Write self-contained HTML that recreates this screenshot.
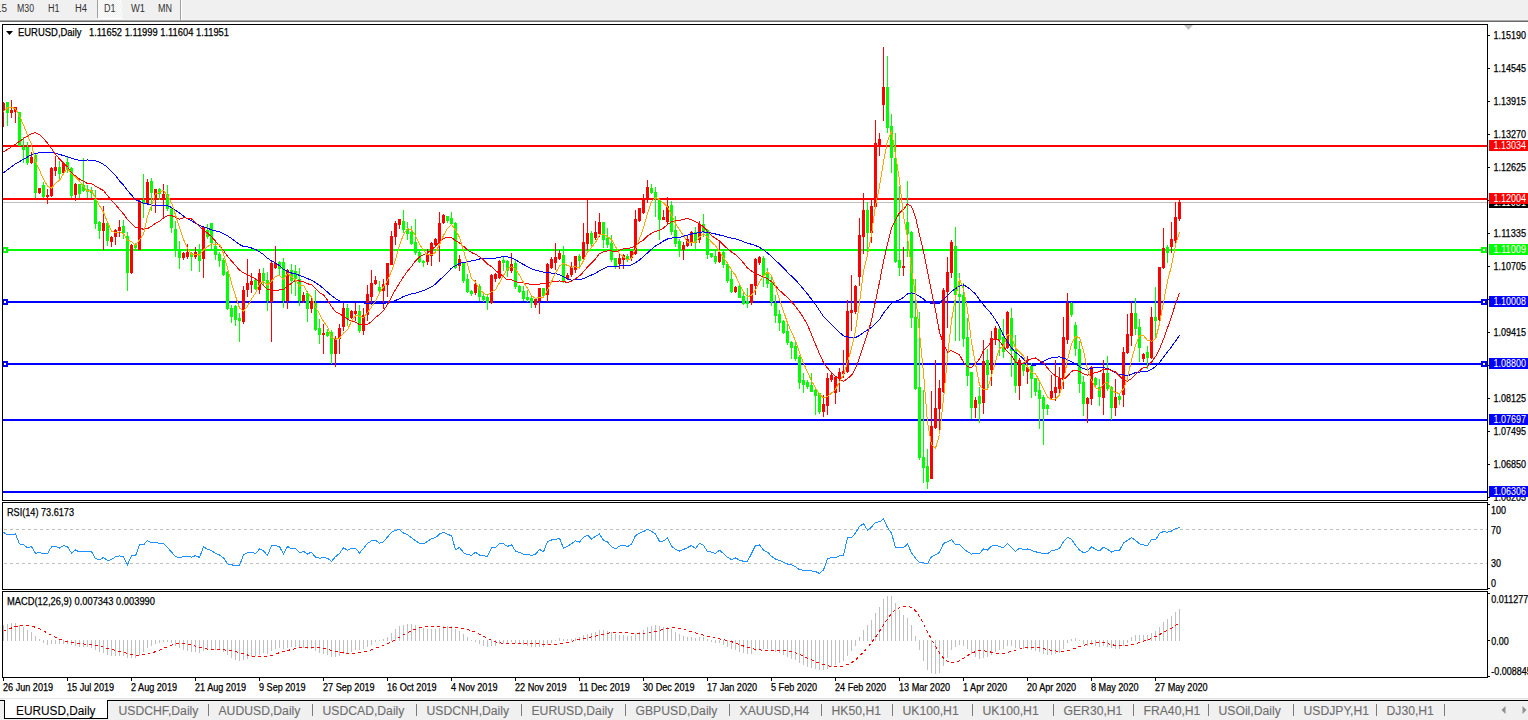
<!DOCTYPE html>
<html><head><meta charset="utf-8"><style>
html,body{margin:0;padding:0;width:1528px;height:720px;overflow:hidden;background:#fff;}
body{position:relative;font-family:"Liberation Sans",sans-serif;}
</style></head><body>
<svg width="1528" height="720" viewBox="0 0 1528 720" style="position:absolute;left:0;top:0" font-family="Liberation Sans, sans-serif"><g shape-rendering="crispEdges"><rect x="0" y="0" width="1528" height="19" fill="#f0f0f0"/><rect x="0" y="19" width="1528" height="1" fill="#f4f4f4"/><rect x="0" y="20" width="1528" height="1" fill="#a6a6a6"/><rect x="0" y="21" width="1528" height="1" fill="#6b6b6b"/><defs><pattern id="chk" width="2" height="2" patternUnits="userSpaceOnUse"><rect width="2" height="2" fill="#f0f0f0"/><rect width="1" height="1" fill="#ffffff"/><rect x="1" y="1" width="1" height="1" fill="#ffffff"/></pattern></defs><rect x="98" y="0" width="24" height="18" fill="url(#chk)"/><rect x="97" y="0" width="1" height="18" fill="#a0a0a0"/><rect x="98" y="18" width="25" height="1" fill="#ffffff"/><rect x="180" y="0" width="1" height="20" fill="#a0a0a0"/><rect x="181" y="0" width="1" height="20" fill="#ffffff"/></g><text x="-4" y="12.2" font-size="10" fill="#333333" stroke="#333333" stroke-width="0" text-anchor="start" >15</text><text x="17" y="12.2" font-size="10" fill="#333333" stroke="#333333" stroke-width="0" text-anchor="start" textLength="17" lengthAdjust="spacingAndGlyphs" >M30</text><text x="48" y="12.2" font-size="10" fill="#333333" stroke="#333333" stroke-width="0" text-anchor="start" textLength="11.5" lengthAdjust="spacingAndGlyphs" >H1</text><text x="75" y="12.2" font-size="10" fill="#333333" stroke="#333333" stroke-width="0" text-anchor="start" textLength="12" lengthAdjust="spacingAndGlyphs" >H4</text><text x="104" y="12.2" font-size="10" fill="#333333" stroke="#333333" stroke-width="0" text-anchor="start" textLength="11.5" lengthAdjust="spacingAndGlyphs" >D1</text><text x="131" y="12.2" font-size="10" fill="#333333" stroke="#333333" stroke-width="0" text-anchor="start" textLength="14" lengthAdjust="spacingAndGlyphs" >W1</text><text x="158" y="12.2" font-size="10" fill="#333333" stroke="#333333" stroke-width="0" text-anchor="start" textLength="14" lengthAdjust="spacingAndGlyphs" >MN</text><g shape-rendering="crispEdges"><rect x="2.5" y="24.5" width="1485" height="476" fill="#fff" stroke="#000" stroke-width="1"/></g><svg x="3" y="25" width="1484" height="475" viewBox="3 25 1484 475" overflow="hidden"><g shape-rendering="crispEdges"><rect x="3" y="202" width="1484" height="1" fill="#c0c0c0"/><rect x="3" y="145" width="1484" height="2" fill="#ff0000"/><rect x="3" y="198" width="1484" height="2" fill="#ff0000"/><rect x="3" y="249" width="1484" height="2" fill="#00ff00"/><rect x="3" y="301" width="1484" height="2" fill="#0000ff"/><rect x="3" y="363" width="1484" height="2" fill="#0000ff"/><rect x="3" y="419" width="1484" height="2" fill="#0000ff"/><rect x="3" y="491" width="1484" height="2" fill="#0000ff"/></g><g shape-rendering="crispEdges"><rect x="3" y="102" width="1" height="25" fill="#ff0000"/><rect x="2" y="103" width="3" height="8" fill="#ff0000"/><rect x="7" y="102" width="1" height="24" fill="#00ff00"/><rect x="6" y="102" width="3" height="11" fill="#00ff00"/><rect x="11" y="100" width="1" height="18" fill="#ff0000"/><rect x="10" y="110" width="3" height="3" fill="#ff0000"/><rect x="15" y="107" width="1" height="16" fill="#ff0000"/><rect x="14" y="107" width="3" height="5" fill="#ff0000"/><rect x="19" y="112" width="1" height="34" fill="#00ff00"/><rect x="18" y="112" width="3" height="34" fill="#00ff00"/><rect x="23" y="137" width="1" height="26" fill="#00ff00"/><rect x="22" y="147" width="3" height="3" fill="#00ff00"/><rect x="27" y="142" width="1" height="23" fill="#00ff00"/><rect x="26" y="147" width="3" height="16" fill="#00ff00"/><rect x="31" y="152" width="1" height="12" fill="#ff0000"/><rect x="30" y="157" width="3" height="6" fill="#ff0000"/><rect x="35" y="153" width="1" height="45" fill="#00ff00"/><rect x="34" y="155" width="3" height="38" fill="#00ff00"/><rect x="39" y="188" width="1" height="6" fill="#ff0000"/><rect x="38" y="188" width="3" height="5" fill="#ff0000"/><rect x="43" y="182" width="1" height="16" fill="#00ff00"/><rect x="42" y="185" width="3" height="12" fill="#00ff00"/><rect x="47" y="189" width="1" height="15" fill="#ff0000"/><rect x="46" y="195" width="3" height="2" fill="#ff0000"/><rect x="51" y="167" width="1" height="30" fill="#ff0000"/><rect x="50" y="168" width="3" height="28" fill="#ff0000"/><rect x="55" y="156" width="1" height="20" fill="#ff0000"/><rect x="54" y="167" width="3" height="4" fill="#ff0000"/><rect x="59" y="161" width="1" height="20" fill="#00ff00"/><rect x="58" y="167" width="3" height="7" fill="#00ff00"/><rect x="63" y="162" width="1" height="12" fill="#ff0000"/><rect x="62" y="163" width="3" height="10" fill="#ff0000"/><rect x="67" y="157" width="1" height="16" fill="#00ff00"/><rect x="66" y="162" width="3" height="7" fill="#00ff00"/><rect x="71" y="167" width="1" height="31" fill="#00ff00"/><rect x="70" y="168" width="3" height="28" fill="#00ff00"/><rect x="75" y="183" width="1" height="18" fill="#ff0000"/><rect x="74" y="184" width="3" height="11" fill="#ff0000"/><rect x="79" y="184" width="1" height="14" fill="#00ff00"/><rect x="78" y="184" width="3" height="10" fill="#00ff00"/><rect x="83" y="158" width="1" height="34" fill="#00ff00"/><rect x="82" y="185" width="3" height="6" fill="#00ff00"/><rect x="87" y="185" width="1" height="13" fill="#00ff00"/><rect x="86" y="189" width="3" height="3" fill="#00ff00"/><rect x="91" y="187" width="1" height="11" fill="#00ff00"/><rect x="90" y="190" width="3" height="3" fill="#00ff00"/><rect x="95" y="190" width="1" height="39" fill="#00ff00"/><rect x="94" y="199" width="3" height="25" fill="#00ff00"/><rect x="99" y="221" width="1" height="18" fill="#00ff00"/><rect x="98" y="222" width="3" height="9" fill="#00ff00"/><rect x="103" y="206" width="1" height="44" fill="#ff0000"/><rect x="102" y="223" width="3" height="8" fill="#ff0000"/><rect x="107" y="223" width="1" height="23" fill="#00ff00"/><rect x="106" y="223" width="3" height="18" fill="#00ff00"/><rect x="111" y="236" width="1" height="11" fill="#ff0000"/><rect x="110" y="237" width="3" height="5" fill="#ff0000"/><rect x="115" y="229" width="1" height="16" fill="#ff0000"/><rect x="114" y="230" width="3" height="7" fill="#ff0000"/><rect x="119" y="220" width="1" height="17" fill="#ff0000"/><rect x="118" y="227" width="3" height="4" fill="#ff0000"/><rect x="123" y="220" width="1" height="19" fill="#00ff00"/><rect x="122" y="226" width="3" height="7" fill="#00ff00"/><rect x="127" y="232" width="1" height="59" fill="#00ff00"/><rect x="126" y="236" width="3" height="37" fill="#00ff00"/><rect x="131" y="244" width="1" height="30" fill="#ff0000"/><rect x="130" y="245" width="3" height="28" fill="#ff0000"/><rect x="135" y="243" width="1" height="6" fill="#00ff00"/><rect x="134" y="244" width="3" height="4" fill="#00ff00"/><rect x="139" y="200" width="1" height="50" fill="#ff0000"/><rect x="138" y="201" width="3" height="49" fill="#ff0000"/><rect x="143" y="174" width="1" height="44" fill="#00ff00"/><rect x="142" y="200" width="3" height="4" fill="#00ff00"/><rect x="147" y="179" width="1" height="26" fill="#ff0000"/><rect x="146" y="182" width="3" height="22" fill="#ff0000"/><rect x="151" y="178" width="1" height="33" fill="#00ff00"/><rect x="150" y="181" width="3" height="12" fill="#00ff00"/><rect x="155" y="189" width="1" height="24" fill="#ff0000"/><rect x="154" y="189" width="3" height="10" fill="#ff0000"/><rect x="159" y="188" width="1" height="12" fill="#00ff00"/><rect x="158" y="189" width="3" height="5" fill="#00ff00"/><rect x="163" y="184" width="1" height="35" fill="#ff0000"/><rect x="162" y="194" width="3" height="5" fill="#ff0000"/><rect x="167" y="185" width="1" height="26" fill="#00ff00"/><rect x="166" y="194" width="3" height="15" fill="#00ff00"/><rect x="171" y="208" width="1" height="25" fill="#00ff00"/><rect x="170" y="209" width="3" height="19" fill="#00ff00"/><rect x="175" y="221" width="1" height="36" fill="#00ff00"/><rect x="174" y="229" width="3" height="22" fill="#00ff00"/><rect x="179" y="241" width="1" height="28" fill="#00ff00"/><rect x="178" y="250" width="3" height="8" fill="#00ff00"/><rect x="183" y="252" width="1" height="8" fill="#ff0000"/><rect x="182" y="253" width="3" height="5" fill="#ff0000"/><rect x="187" y="244" width="1" height="15" fill="#ff0000"/><rect x="186" y="252" width="3" height="5" fill="#ff0000"/><rect x="191" y="252" width="1" height="19" fill="#00ff00"/><rect x="190" y="253" width="3" height="4" fill="#00ff00"/><rect x="195" y="247" width="1" height="12" fill="#ff0000"/><rect x="194" y="252" width="3" height="5" fill="#ff0000"/><rect x="199" y="244" width="1" height="28" fill="#00ff00"/><rect x="198" y="250" width="3" height="11" fill="#00ff00"/><rect x="203" y="226" width="1" height="52" fill="#ff0000"/><rect x="202" y="227" width="3" height="32" fill="#ff0000"/><rect x="207" y="224" width="1" height="15" fill="#00ff00"/><rect x="206" y="230" width="3" height="7" fill="#00ff00"/><rect x="211" y="223" width="1" height="26" fill="#00ff00"/><rect x="210" y="223" width="3" height="20" fill="#00ff00"/><rect x="215" y="242" width="1" height="18" fill="#00ff00"/><rect x="214" y="246" width="3" height="9" fill="#00ff00"/><rect x="219" y="252" width="1" height="15" fill="#00ff00"/><rect x="218" y="254" width="3" height="7" fill="#00ff00"/><rect x="223" y="258" width="1" height="18" fill="#00ff00"/><rect x="222" y="260" width="3" height="15" fill="#00ff00"/><rect x="227" y="271" width="1" height="39" fill="#00ff00"/><rect x="226" y="272" width="3" height="37" fill="#00ff00"/><rect x="231" y="305" width="1" height="18" fill="#00ff00"/><rect x="230" y="308" width="3" height="9" fill="#00ff00"/><rect x="235" y="305" width="1" height="21" fill="#00ff00"/><rect x="234" y="306" width="3" height="14" fill="#00ff00"/><rect x="239" y="313" width="1" height="29" fill="#00ff00"/><rect x="238" y="318" width="3" height="3" fill="#00ff00"/><rect x="243" y="286" width="1" height="38" fill="#ff0000"/><rect x="242" y="290" width="3" height="32" fill="#ff0000"/><rect x="247" y="259" width="1" height="38" fill="#ff0000"/><rect x="246" y="283" width="3" height="7" fill="#ff0000"/><rect x="251" y="273" width="1" height="20" fill="#ff0000"/><rect x="250" y="281" width="3" height="4" fill="#ff0000"/><rect x="255" y="278" width="1" height="12" fill="#00ff00"/><rect x="254" y="280" width="3" height="9" fill="#00ff00"/><rect x="259" y="269" width="1" height="25" fill="#ff0000"/><rect x="258" y="273" width="3" height="17" fill="#ff0000"/><rect x="263" y="268" width="1" height="17" fill="#00ff00"/><rect x="262" y="273" width="3" height="8" fill="#00ff00"/><rect x="267" y="272" width="1" height="39" fill="#00ff00"/><rect x="266" y="280" width="3" height="21" fill="#00ff00"/><rect x="271" y="261" width="1" height="81" fill="#ff0000"/><rect x="270" y="263" width="3" height="39" fill="#ff0000"/><rect x="275" y="246" width="1" height="23" fill="#ff0000"/><rect x="274" y="263" width="3" height="5" fill="#ff0000"/><rect x="279" y="261" width="1" height="14" fill="#00ff00"/><rect x="278" y="262" width="3" height="7" fill="#00ff00"/><rect x="283" y="258" width="1" height="50" fill="#00ff00"/><rect x="282" y="262" width="3" height="39" fill="#00ff00"/><rect x="287" y="269" width="1" height="40" fill="#ff0000"/><rect x="286" y="270" width="3" height="31" fill="#ff0000"/><rect x="291" y="264" width="1" height="30" fill="#00ff00"/><rect x="290" y="270" width="3" height="11" fill="#00ff00"/><rect x="295" y="265" width="1" height="31" fill="#00ff00"/><rect x="294" y="271" width="3" height="8" fill="#00ff00"/><rect x="299" y="268" width="1" height="38" fill="#00ff00"/><rect x="298" y="279" width="3" height="22" fill="#00ff00"/><rect x="303" y="292" width="1" height="11" fill="#ff0000"/><rect x="302" y="295" width="3" height="6" fill="#ff0000"/><rect x="307" y="291" width="1" height="31" fill="#00ff00"/><rect x="306" y="293" width="3" height="16" fill="#00ff00"/><rect x="311" y="298" width="1" height="15" fill="#ff0000"/><rect x="310" y="301" width="3" height="8" fill="#ff0000"/><rect x="315" y="290" width="1" height="41" fill="#00ff00"/><rect x="314" y="303" width="3" height="27" fill="#00ff00"/><rect x="319" y="319" width="1" height="25" fill="#00ff00"/><rect x="318" y="328" width="3" height="7" fill="#00ff00"/><rect x="323" y="324" width="1" height="30" fill="#ff0000"/><rect x="322" y="333" width="3" height="2" fill="#ff0000"/><rect x="327" y="329" width="1" height="8" fill="#00ff00"/><rect x="326" y="332" width="3" height="4" fill="#00ff00"/><rect x="331" y="330" width="1" height="34" fill="#00ff00"/><rect x="330" y="332" width="3" height="22" fill="#00ff00"/><rect x="335" y="336" width="1" height="31" fill="#ff0000"/><rect x="334" y="339" width="3" height="15" fill="#ff0000"/><rect x="339" y="324" width="1" height="30" fill="#ff0000"/><rect x="338" y="328" width="3" height="11" fill="#ff0000"/><rect x="343" y="303" width="1" height="28" fill="#ff0000"/><rect x="342" y="308" width="3" height="19" fill="#ff0000"/><rect x="347" y="304" width="1" height="22" fill="#00ff00"/><rect x="346" y="308" width="3" height="11" fill="#00ff00"/><rect x="351" y="310" width="1" height="9" fill="#ff0000"/><rect x="350" y="311" width="3" height="7" fill="#ff0000"/><rect x="355" y="303" width="1" height="18" fill="#ff0000"/><rect x="354" y="311" width="3" height="3" fill="#ff0000"/><rect x="359" y="305" width="1" height="28" fill="#00ff00"/><rect x="358" y="311" width="3" height="20" fill="#00ff00"/><rect x="363" y="308" width="1" height="27" fill="#ff0000"/><rect x="362" y="315" width="3" height="16" fill="#ff0000"/><rect x="367" y="285" width="1" height="36" fill="#ff0000"/><rect x="366" y="294" width="3" height="21" fill="#ff0000"/><rect x="371" y="270" width="1" height="35" fill="#ff0000"/><rect x="370" y="283" width="3" height="14" fill="#ff0000"/><rect x="375" y="276" width="1" height="9" fill="#ff0000"/><rect x="374" y="280" width="3" height="4" fill="#ff0000"/><rect x="379" y="281" width="1" height="11" fill="#00ff00"/><rect x="378" y="287" width="3" height="4" fill="#00ff00"/><rect x="383" y="279" width="1" height="30" fill="#ff0000"/><rect x="382" y="284" width="3" height="7" fill="#ff0000"/><rect x="387" y="263" width="1" height="34" fill="#ff0000"/><rect x="386" y="263" width="3" height="22" fill="#ff0000"/><rect x="391" y="231" width="1" height="34" fill="#ff0000"/><rect x="390" y="236" width="3" height="29" fill="#ff0000"/><rect x="395" y="221" width="1" height="24" fill="#ff0000"/><rect x="394" y="223" width="3" height="14" fill="#ff0000"/><rect x="399" y="219" width="1" height="10" fill="#ff0000"/><rect x="398" y="219" width="3" height="6" fill="#ff0000"/><rect x="403" y="210" width="1" height="23" fill="#00ff00"/><rect x="402" y="221" width="3" height="9" fill="#00ff00"/><rect x="407" y="222" width="1" height="18" fill="#00ff00"/><rect x="406" y="229" width="3" height="5" fill="#00ff00"/><rect x="411" y="226" width="1" height="19" fill="#00ff00"/><rect x="410" y="232" width="3" height="12" fill="#00ff00"/><rect x="415" y="219" width="1" height="36" fill="#00ff00"/><rect x="414" y="242" width="3" height="11" fill="#00ff00"/><rect x="419" y="249" width="1" height="14" fill="#00ff00"/><rect x="418" y="252" width="3" height="10" fill="#00ff00"/><rect x="423" y="260" width="1" height="7" fill="#00ff00"/><rect x="422" y="261" width="3" height="2" fill="#00ff00"/><rect x="427" y="249" width="1" height="16" fill="#ff0000"/><rect x="426" y="254" width="3" height="8" fill="#ff0000"/><rect x="431" y="242" width="1" height="24" fill="#ff0000"/><rect x="430" y="243" width="3" height="13" fill="#ff0000"/><rect x="435" y="238" width="1" height="9" fill="#ff0000"/><rect x="434" y="239" width="3" height="6" fill="#ff0000"/><rect x="439" y="212" width="1" height="50" fill="#ff0000"/><rect x="438" y="223" width="3" height="20" fill="#ff0000"/><rect x="443" y="214" width="1" height="10" fill="#ff0000"/><rect x="442" y="215" width="3" height="8" fill="#ff0000"/><rect x="447" y="216" width="1" height="7" fill="#00ff00"/><rect x="446" y="216" width="3" height="5" fill="#00ff00"/><rect x="451" y="212" width="1" height="13" fill="#00ff00"/><rect x="450" y="218" width="3" height="6" fill="#00ff00"/><rect x="455" y="222" width="1" height="47" fill="#00ff00"/><rect x="454" y="223" width="3" height="45" fill="#00ff00"/><rect x="459" y="255" width="1" height="16" fill="#ff0000"/><rect x="458" y="259" width="3" height="7" fill="#ff0000"/><rect x="463" y="262" width="1" height="21" fill="#00ff00"/><rect x="462" y="263" width="3" height="18" fill="#00ff00"/><rect x="467" y="274" width="1" height="19" fill="#00ff00"/><rect x="466" y="279" width="3" height="13" fill="#00ff00"/><rect x="471" y="290" width="1" height="6" fill="#00ff00"/><rect x="470" y="291" width="3" height="3" fill="#00ff00"/><rect x="475" y="280" width="1" height="15" fill="#ff0000"/><rect x="474" y="284" width="3" height="9" fill="#ff0000"/><rect x="479" y="284" width="1" height="17" fill="#00ff00"/><rect x="478" y="286" width="3" height="11" fill="#00ff00"/><rect x="483" y="293" width="1" height="9" fill="#00ff00"/><rect x="482" y="296" width="3" height="4" fill="#00ff00"/><rect x="487" y="294" width="1" height="16" fill="#00ff00"/><rect x="486" y="297" width="3" height="6" fill="#00ff00"/><rect x="491" y="274" width="1" height="30" fill="#ff0000"/><rect x="490" y="275" width="3" height="28" fill="#ff0000"/><rect x="495" y="273" width="1" height="9" fill="#ff0000"/><rect x="494" y="274" width="3" height="5" fill="#ff0000"/><rect x="499" y="260" width="1" height="19" fill="#ff0000"/><rect x="498" y="261" width="3" height="17" fill="#ff0000"/><rect x="503" y="257" width="1" height="14" fill="#00ff00"/><rect x="502" y="260" width="3" height="3" fill="#00ff00"/><rect x="507" y="260" width="1" height="17" fill="#00ff00"/><rect x="506" y="261" width="3" height="10" fill="#00ff00"/><rect x="511" y="253" width="1" height="20" fill="#ff0000"/><rect x="510" y="264" width="3" height="7" fill="#ff0000"/><rect x="515" y="260" width="1" height="29" fill="#00ff00"/><rect x="514" y="263" width="3" height="24" fill="#00ff00"/><rect x="519" y="285" width="1" height="8" fill="#00ff00"/><rect x="518" y="286" width="3" height="6" fill="#00ff00"/><rect x="523" y="286" width="1" height="15" fill="#00ff00"/><rect x="522" y="291" width="3" height="8" fill="#00ff00"/><rect x="527" y="290" width="1" height="12" fill="#00ff00"/><rect x="526" y="297" width="3" height="3" fill="#00ff00"/><rect x="531" y="296" width="1" height="12" fill="#00ff00"/><rect x="530" y="298" width="3" height="5" fill="#00ff00"/><rect x="535" y="298" width="1" height="10" fill="#ff0000"/><rect x="534" y="299" width="3" height="6" fill="#ff0000"/><rect x="539" y="288" width="1" height="26" fill="#ff0000"/><rect x="538" y="288" width="3" height="13" fill="#ff0000"/><rect x="543" y="288" width="1" height="9" fill="#00ff00"/><rect x="542" y="288" width="3" height="8" fill="#00ff00"/><rect x="547" y="263" width="1" height="39" fill="#ff0000"/><rect x="546" y="264" width="3" height="31" fill="#ff0000"/><rect x="551" y="257" width="1" height="12" fill="#ff0000"/><rect x="550" y="259" width="3" height="9" fill="#ff0000"/><rect x="555" y="243" width="1" height="27" fill="#ff0000"/><rect x="554" y="257" width="3" height="6" fill="#ff0000"/><rect x="559" y="250" width="1" height="10" fill="#ff0000"/><rect x="558" y="253" width="3" height="6" fill="#ff0000"/><rect x="563" y="246" width="1" height="37" fill="#00ff00"/><rect x="562" y="255" width="3" height="27" fill="#00ff00"/><rect x="567" y="273" width="1" height="7" fill="#ff0000"/><rect x="566" y="275" width="3" height="4" fill="#ff0000"/><rect x="571" y="262" width="1" height="15" fill="#ff0000"/><rect x="570" y="267" width="3" height="8" fill="#ff0000"/><rect x="575" y="256" width="1" height="17" fill="#ff0000"/><rect x="574" y="256" width="3" height="14" fill="#ff0000"/><rect x="579" y="254" width="1" height="14" fill="#00ff00"/><rect x="578" y="256" width="3" height="5" fill="#00ff00"/><rect x="583" y="223" width="1" height="36" fill="#ff0000"/><rect x="582" y="242" width="3" height="17" fill="#ff0000"/><rect x="587" y="199" width="1" height="51" fill="#ff0000"/><rect x="586" y="233" width="3" height="11" fill="#ff0000"/><rect x="591" y="231" width="1" height="16" fill="#00ff00"/><rect x="590" y="233" width="3" height="11" fill="#00ff00"/><rect x="595" y="221" width="1" height="19" fill="#ff0000"/><rect x="594" y="232" width="3" height="6" fill="#ff0000"/><rect x="599" y="213" width="1" height="24" fill="#ff0000"/><rect x="598" y="222" width="3" height="12" fill="#ff0000"/><rect x="603" y="222" width="1" height="26" fill="#00ff00"/><rect x="602" y="222" width="3" height="18" fill="#00ff00"/><rect x="607" y="228" width="1" height="20" fill="#00ff00"/><rect x="606" y="238" width="3" height="7" fill="#00ff00"/><rect x="611" y="235" width="1" height="27" fill="#00ff00"/><rect x="610" y="243" width="3" height="17" fill="#00ff00"/><rect x="615" y="258" width="1" height="11" fill="#00ff00"/><rect x="614" y="258" width="3" height="9" fill="#00ff00"/><rect x="619" y="254" width="1" height="15" fill="#ff0000"/><rect x="618" y="258" width="3" height="6" fill="#ff0000"/><rect x="623" y="254" width="1" height="15" fill="#ff0000"/><rect x="622" y="255" width="3" height="5" fill="#ff0000"/><rect x="627" y="254" width="1" height="8" fill="#00ff00"/><rect x="626" y="256" width="3" height="4" fill="#00ff00"/><rect x="631" y="251" width="1" height="10" fill="#ff0000"/><rect x="630" y="251" width="3" height="7" fill="#ff0000"/><rect x="635" y="210" width="1" height="45" fill="#ff0000"/><rect x="634" y="219" width="3" height="35" fill="#ff0000"/><rect x="639" y="208" width="1" height="14" fill="#ff0000"/><rect x="638" y="208" width="3" height="13" fill="#ff0000"/><rect x="643" y="194" width="1" height="20" fill="#ff0000"/><rect x="642" y="199" width="3" height="14" fill="#ff0000"/><rect x="647" y="180" width="1" height="23" fill="#ff0000"/><rect x="646" y="187" width="3" height="12" fill="#ff0000"/><rect x="651" y="184" width="1" height="10" fill="#00ff00"/><rect x="650" y="188" width="3" height="5" fill="#00ff00"/><rect x="655" y="187" width="1" height="30" fill="#00ff00"/><rect x="654" y="192" width="3" height="7" fill="#00ff00"/><rect x="659" y="199" width="1" height="41" fill="#00ff00"/><rect x="658" y="200" width="3" height="20" fill="#00ff00"/><rect x="663" y="210" width="1" height="10" fill="#ff0000"/><rect x="662" y="217" width="3" height="3" fill="#ff0000"/><rect x="667" y="197" width="1" height="27" fill="#ff0000"/><rect x="666" y="206" width="3" height="16" fill="#ff0000"/><rect x="671" y="201" width="1" height="34" fill="#00ff00"/><rect x="670" y="205" width="3" height="27" fill="#00ff00"/><rect x="675" y="216" width="1" height="31" fill="#00ff00"/><rect x="674" y="230" width="3" height="14" fill="#00ff00"/><rect x="679" y="239" width="1" height="18" fill="#00ff00"/><rect x="678" y="241" width="3" height="10" fill="#00ff00"/><rect x="683" y="242" width="1" height="18" fill="#ff0000"/><rect x="682" y="245" width="3" height="5" fill="#ff0000"/><rect x="687" y="236" width="1" height="11" fill="#ff0000"/><rect x="686" y="239" width="3" height="7" fill="#ff0000"/><rect x="691" y="231" width="1" height="15" fill="#ff0000"/><rect x="690" y="232" width="3" height="11" fill="#ff0000"/><rect x="695" y="227" width="1" height="22" fill="#00ff00"/><rect x="694" y="232" width="3" height="11" fill="#00ff00"/><rect x="699" y="221" width="1" height="22" fill="#ff0000"/><rect x="698" y="224" width="3" height="16" fill="#ff0000"/><rect x="703" y="214" width="1" height="23" fill="#00ff00"/><rect x="702" y="224" width="3" height="8" fill="#00ff00"/><rect x="707" y="229" width="1" height="30" fill="#00ff00"/><rect x="706" y="230" width="3" height="25" fill="#00ff00"/><rect x="711" y="253" width="1" height="5" fill="#00ff00"/><rect x="710" y="253" width="3" height="4" fill="#00ff00"/><rect x="715" y="251" width="1" height="13" fill="#00ff00"/><rect x="714" y="256" width="3" height="6" fill="#00ff00"/><rect x="719" y="242" width="1" height="21" fill="#ff0000"/><rect x="718" y="252" width="3" height="10" fill="#ff0000"/><rect x="723" y="251" width="1" height="17" fill="#00ff00"/><rect x="722" y="252" width="3" height="13" fill="#00ff00"/><rect x="727" y="264" width="1" height="19" fill="#00ff00"/><rect x="726" y="264" width="3" height="17" fill="#00ff00"/><rect x="731" y="271" width="1" height="22" fill="#00ff00"/><rect x="730" y="279" width="3" height="13" fill="#00ff00"/><rect x="735" y="286" width="1" height="7" fill="#ff0000"/><rect x="734" y="287" width="3" height="5" fill="#ff0000"/><rect x="739" y="285" width="1" height="13" fill="#00ff00"/><rect x="738" y="286" width="3" height="12" fill="#00ff00"/><rect x="743" y="291" width="1" height="14" fill="#00ff00"/><rect x="742" y="296" width="3" height="8" fill="#00ff00"/><rect x="747" y="288" width="1" height="20" fill="#00ff00"/><rect x="746" y="301" width="3" height="3" fill="#00ff00"/><rect x="751" y="284" width="1" height="21" fill="#ff0000"/><rect x="750" y="284" width="3" height="19" fill="#ff0000"/><rect x="755" y="258" width="1" height="37" fill="#ff0000"/><rect x="754" y="259" width="3" height="27" fill="#ff0000"/><rect x="759" y="256" width="1" height="9" fill="#ff0000"/><rect x="758" y="257" width="3" height="6" fill="#ff0000"/><rect x="763" y="256" width="1" height="31" fill="#00ff00"/><rect x="762" y="258" width="3" height="18" fill="#00ff00"/><rect x="767" y="268" width="1" height="20" fill="#00ff00"/><rect x="766" y="273" width="3" height="11" fill="#00ff00"/><rect x="771" y="277" width="1" height="29" fill="#00ff00"/><rect x="770" y="283" width="3" height="19" fill="#00ff00"/><rect x="775" y="295" width="1" height="28" fill="#00ff00"/><rect x="774" y="303" width="3" height="13" fill="#00ff00"/><rect x="779" y="310" width="1" height="21" fill="#00ff00"/><rect x="778" y="314" width="3" height="9" fill="#00ff00"/><rect x="783" y="320" width="1" height="14" fill="#00ff00"/><rect x="782" y="321" width="3" height="12" fill="#00ff00"/><rect x="787" y="324" width="1" height="21" fill="#00ff00"/><rect x="786" y="331" width="3" height="12" fill="#00ff00"/><rect x="791" y="341" width="1" height="18" fill="#00ff00"/><rect x="790" y="342" width="3" height="6" fill="#00ff00"/><rect x="795" y="340" width="1" height="21" fill="#00ff00"/><rect x="794" y="346" width="3" height="13" fill="#00ff00"/><rect x="799" y="355" width="1" height="34" fill="#00ff00"/><rect x="798" y="357" width="3" height="26" fill="#00ff00"/><rect x="803" y="373" width="1" height="20" fill="#00ff00"/><rect x="802" y="380" width="3" height="5" fill="#00ff00"/><rect x="807" y="380" width="1" height="9" fill="#00ff00"/><rect x="806" y="382" width="3" height="5" fill="#00ff00"/><rect x="811" y="373" width="1" height="19" fill="#00ff00"/><rect x="810" y="385" width="3" height="7" fill="#00ff00"/><rect x="815" y="388" width="1" height="27" fill="#00ff00"/><rect x="814" y="390" width="3" height="6" fill="#00ff00"/><rect x="819" y="393" width="1" height="21" fill="#00ff00"/><rect x="818" y="393" width="3" height="19" fill="#00ff00"/><rect x="823" y="395" width="1" height="22" fill="#ff0000"/><rect x="822" y="404" width="3" height="8" fill="#ff0000"/><rect x="827" y="373" width="1" height="42" fill="#ff0000"/><rect x="826" y="378" width="3" height="28" fill="#ff0000"/><rect x="831" y="373" width="1" height="9" fill="#ff0000"/><rect x="830" y="375" width="3" height="5" fill="#ff0000"/><rect x="835" y="376" width="1" height="28" fill="#ff0000"/><rect x="834" y="377" width="3" height="16" fill="#ff0000"/><rect x="839" y="368" width="1" height="24" fill="#ff0000"/><rect x="838" y="372" width="3" height="7" fill="#ff0000"/><rect x="843" y="350" width="1" height="28" fill="#ff0000"/><rect x="842" y="371" width="3" height="3" fill="#ff0000"/><rect x="847" y="300" width="1" height="73" fill="#ff0000"/><rect x="846" y="311" width="3" height="61" fill="#ff0000"/><rect x="851" y="275" width="1" height="56" fill="#ff0000"/><rect x="850" y="310" width="3" height="3" fill="#ff0000"/><rect x="855" y="285" width="1" height="29" fill="#ff0000"/><rect x="854" y="286" width="3" height="26" fill="#ff0000"/><rect x="859" y="218" width="1" height="68" fill="#ff0000"/><rect x="858" y="235" width="3" height="42" fill="#ff0000"/><rect x="863" y="193" width="1" height="61" fill="#ff0000"/><rect x="862" y="210" width="3" height="27" fill="#ff0000"/><rect x="867" y="202" width="1" height="52" fill="#00ff00"/><rect x="866" y="210" width="3" height="23" fill="#00ff00"/><rect x="871" y="200" width="1" height="43" fill="#ff0000"/><rect x="870" y="206" width="3" height="27" fill="#ff0000"/><rect x="875" y="120" width="1" height="88" fill="#ff0000"/><rect x="874" y="143" width="3" height="64" fill="#ff0000"/><rect x="879" y="133" width="1" height="23" fill="#ff0000"/><rect x="878" y="139" width="3" height="6" fill="#ff0000"/><rect x="883" y="47" width="1" height="74" fill="#ff0000"/><rect x="882" y="87" width="3" height="18" fill="#ff0000"/><rect x="887" y="56" width="1" height="77" fill="#00ff00"/><rect x="886" y="87" width="3" height="41" fill="#00ff00"/><rect x="891" y="114" width="1" height="59" fill="#00ff00"/><rect x="890" y="126" width="3" height="32" fill="#00ff00"/><rect x="895" y="133" width="1" height="130" fill="#00ff00"/><rect x="894" y="158" width="3" height="104" fill="#00ff00"/><rect x="899" y="186" width="1" height="90" fill="#00ff00"/><rect x="898" y="260" width="3" height="8" fill="#00ff00"/><rect x="903" y="247" width="1" height="29" fill="#ff0000"/><rect x="902" y="266" width="3" height="2" fill="#ff0000"/><rect x="907" y="181" width="1" height="76" fill="#00ff00"/><rect x="906" y="222" width="3" height="12" fill="#00ff00"/><rect x="911" y="231" width="1" height="97" fill="#00ff00"/><rect x="910" y="232" width="3" height="86" fill="#00ff00"/><rect x="915" y="279" width="1" height="111" fill="#00ff00"/><rect x="914" y="317" width="3" height="72" fill="#00ff00"/><rect x="919" y="312" width="1" height="148" fill="#00ff00"/><rect x="918" y="387" width="3" height="71" fill="#00ff00"/><rect x="923" y="390" width="1" height="93" fill="#00ff00"/><rect x="922" y="457" width="3" height="11" fill="#00ff00"/><rect x="927" y="449" width="1" height="40" fill="#00ff00"/><rect x="926" y="466" width="3" height="16" fill="#00ff00"/><rect x="931" y="391" width="1" height="88" fill="#ff0000"/><rect x="930" y="426" width="3" height="53" fill="#ff0000"/><rect x="935" y="360" width="1" height="69" fill="#ff0000"/><rect x="934" y="408" width="3" height="20" fill="#ff0000"/><rect x="939" y="380" width="1" height="51" fill="#ff0000"/><rect x="938" y="388" width="3" height="21" fill="#ff0000"/><rect x="943" y="288" width="1" height="105" fill="#ff0000"/><rect x="942" y="290" width="3" height="102" fill="#ff0000"/><rect x="947" y="257" width="1" height="71" fill="#ff0000"/><rect x="946" y="272" width="3" height="20" fill="#ff0000"/><rect x="951" y="240" width="1" height="38" fill="#ff0000"/><rect x="950" y="242" width="3" height="31" fill="#ff0000"/><rect x="955" y="227" width="1" height="114" fill="#00ff00"/><rect x="954" y="246" width="3" height="49" fill="#00ff00"/><rect x="959" y="273" width="1" height="68" fill="#00ff00"/><rect x="958" y="294" width="3" height="3" fill="#00ff00"/><rect x="963" y="283" width="1" height="64" fill="#00ff00"/><rect x="962" y="295" width="3" height="44" fill="#00ff00"/><rect x="967" y="318" width="1" height="68" fill="#00ff00"/><rect x="966" y="337" width="3" height="39" fill="#00ff00"/><rect x="971" y="372" width="1" height="47" fill="#00ff00"/><rect x="970" y="372" width="3" height="36" fill="#00ff00"/><rect x="975" y="397" width="1" height="21" fill="#ff0000"/><rect x="974" y="400" width="3" height="8" fill="#ff0000"/><rect x="979" y="387" width="1" height="36" fill="#00ff00"/><rect x="978" y="396" width="3" height="8" fill="#00ff00"/><rect x="983" y="340" width="1" height="74" fill="#ff0000"/><rect x="982" y="361" width="3" height="42" fill="#ff0000"/><rect x="987" y="349" width="1" height="39" fill="#00ff00"/><rect x="986" y="360" width="3" height="15" fill="#00ff00"/><rect x="991" y="331" width="1" height="55" fill="#ff0000"/><rect x="990" y="338" width="3" height="32" fill="#ff0000"/><rect x="995" y="326" width="1" height="19" fill="#ff0000"/><rect x="994" y="328" width="3" height="12" fill="#ff0000"/><rect x="999" y="328" width="1" height="28" fill="#00ff00"/><rect x="998" y="329" width="3" height="11" fill="#00ff00"/><rect x="1003" y="319" width="1" height="39" fill="#00ff00"/><rect x="1002" y="337" width="3" height="15" fill="#00ff00"/><rect x="1007" y="311" width="1" height="38" fill="#ff0000"/><rect x="1006" y="312" width="3" height="36" fill="#ff0000"/><rect x="1011" y="308" width="1" height="69" fill="#00ff00"/><rect x="1010" y="318" width="3" height="33" fill="#00ff00"/><rect x="1015" y="335" width="1" height="58" fill="#00ff00"/><rect x="1014" y="350" width="3" height="36" fill="#00ff00"/><rect x="1019" y="358" width="1" height="42" fill="#ff0000"/><rect x="1018" y="360" width="3" height="26" fill="#ff0000"/><rect x="1023" y="362" width="1" height="14" fill="#00ff00"/><rect x="1022" y="364" width="3" height="7" fill="#00ff00"/><rect x="1027" y="356" width="1" height="28" fill="#ff0000"/><rect x="1026" y="367" width="3" height="5" fill="#ff0000"/><rect x="1031" y="363" width="1" height="35" fill="#00ff00"/><rect x="1030" y="366" width="3" height="13" fill="#00ff00"/><rect x="1035" y="378" width="1" height="18" fill="#00ff00"/><rect x="1034" y="378" width="3" height="14" fill="#00ff00"/><rect x="1039" y="382" width="1" height="47" fill="#00ff00"/><rect x="1038" y="390" width="3" height="9" fill="#00ff00"/><rect x="1043" y="395" width="1" height="50" fill="#00ff00"/><rect x="1042" y="397" width="3" height="12" fill="#00ff00"/><rect x="1047" y="404" width="1" height="11" fill="#00ff00"/><rect x="1046" y="405" width="3" height="4" fill="#00ff00"/><rect x="1051" y="375" width="1" height="25" fill="#ff0000"/><rect x="1050" y="391" width="3" height="7" fill="#ff0000"/><rect x="1055" y="360" width="1" height="41" fill="#ff0000"/><rect x="1054" y="387" width="3" height="6" fill="#ff0000"/><rect x="1059" y="367" width="1" height="27" fill="#ff0000"/><rect x="1058" y="378" width="3" height="11" fill="#ff0000"/><rect x="1063" y="317" width="1" height="72" fill="#ff0000"/><rect x="1062" y="337" width="3" height="42" fill="#ff0000"/><rect x="1067" y="293" width="1" height="51" fill="#ff0000"/><rect x="1066" y="303" width="3" height="37" fill="#ff0000"/><rect x="1071" y="302" width="1" height="15" fill="#00ff00"/><rect x="1070" y="303" width="3" height="12" fill="#00ff00"/><rect x="1075" y="322" width="1" height="34" fill="#00ff00"/><rect x="1074" y="325" width="3" height="24" fill="#00ff00"/><rect x="1079" y="341" width="1" height="52" fill="#00ff00"/><rect x="1078" y="349" width="3" height="35" fill="#00ff00"/><rect x="1083" y="376" width="1" height="40" fill="#00ff00"/><rect x="1082" y="382" width="3" height="22" fill="#00ff00"/><rect x="1087" y="397" width="1" height="26" fill="#ff0000"/><rect x="1086" y="398" width="3" height="6" fill="#ff0000"/><rect x="1091" y="366" width="1" height="39" fill="#ff0000"/><rect x="1090" y="367" width="3" height="32" fill="#ff0000"/><rect x="1095" y="377" width="1" height="10" fill="#00ff00"/><rect x="1094" y="378" width="3" height="7" fill="#00ff00"/><rect x="1099" y="379" width="1" height="27" fill="#00ff00"/><rect x="1098" y="387" width="3" height="10" fill="#00ff00"/><rect x="1103" y="360" width="1" height="55" fill="#ff0000"/><rect x="1102" y="373" width="3" height="25" fill="#ff0000"/><rect x="1107" y="356" width="1" height="35" fill="#00ff00"/><rect x="1106" y="373" width="3" height="16" fill="#00ff00"/><rect x="1111" y="386" width="1" height="34" fill="#00ff00"/><rect x="1110" y="387" width="3" height="21" fill="#00ff00"/><rect x="1115" y="379" width="1" height="37" fill="#ff0000"/><rect x="1114" y="397" width="3" height="11" fill="#ff0000"/><rect x="1119" y="394" width="1" height="11" fill="#00ff00"/><rect x="1118" y="396" width="3" height="4" fill="#00ff00"/><rect x="1123" y="347" width="1" height="60" fill="#ff0000"/><rect x="1122" y="352" width="3" height="43" fill="#ff0000"/><rect x="1127" y="314" width="1" height="40" fill="#ff0000"/><rect x="1126" y="334" width="3" height="19" fill="#ff0000"/><rect x="1131" y="302" width="1" height="44" fill="#ff0000"/><rect x="1130" y="313" width="3" height="23" fill="#ff0000"/><rect x="1135" y="298" width="1" height="37" fill="#00ff00"/><rect x="1134" y="313" width="3" height="16" fill="#00ff00"/><rect x="1139" y="319" width="1" height="43" fill="#00ff00"/><rect x="1138" y="327" width="3" height="21" fill="#00ff00"/><rect x="1143" y="353" width="1" height="9" fill="#ff0000"/><rect x="1142" y="354" width="3" height="5" fill="#ff0000"/><rect x="1147" y="346" width="1" height="23" fill="#00ff00"/><rect x="1146" y="352" width="3" height="6" fill="#00ff00"/><rect x="1151" y="307" width="1" height="52" fill="#ff0000"/><rect x="1150" y="317" width="3" height="41" fill="#ff0000"/><rect x="1155" y="287" width="1" height="51" fill="#00ff00"/><rect x="1154" y="317" width="3" height="4" fill="#00ff00"/><rect x="1159" y="267" width="1" height="54" fill="#ff0000"/><rect x="1158" y="267" width="3" height="53" fill="#ff0000"/><rect x="1163" y="228" width="1" height="41" fill="#ff0000"/><rect x="1162" y="248" width="3" height="20" fill="#ff0000"/><rect x="1167" y="245" width="1" height="18" fill="#00ff00"/><rect x="1166" y="247" width="3" height="6" fill="#00ff00"/><rect x="1171" y="222" width="1" height="31" fill="#ff0000"/><rect x="1170" y="239" width="3" height="8" fill="#ff0000"/><rect x="1175" y="202" width="1" height="44" fill="#ff0000"/><rect x="1174" y="217" width="3" height="24" fill="#ff0000"/><rect x="1179" y="199" width="1" height="22" fill="#ff0000"/><rect x="1178" y="202" width="3" height="17" fill="#ff0000"/></g><polyline points="3.5,172.7 7.5,169.7 11.5,166.7 15.5,163.9 19.5,161.6 23.5,159.3 27.5,157.0 31.5,154.7 35.5,153.5 39.5,152.7 43.5,152.7 47.5,152.7 51.5,152.7 55.5,153.3 59.5,154.4 63.5,155.6 67.5,156.8 71.5,158.1 75.5,159.5 79.5,160.3 83.5,160.2 87.5,160.0 91.5,160.2 95.5,160.8 99.5,162.1 103.5,164.4 107.5,167.3 111.5,171.3 115.5,175.4 119.5,180.8 123.5,185.1 127.5,190.5 131.5,195.0 135.5,199.6 139.5,201.5 143.5,203.3 147.5,204.0 151.5,205.1 155.5,205.0 159.5,205.2 163.5,205.1 167.5,205.6 171.5,207.5 175.5,210.3 179.5,213.1 183.5,216.1 187.5,218.9 191.5,220.9 195.5,223.2 199.5,225.4 203.5,226.7 207.5,228.2 211.5,229.8 215.5,230.9 219.5,231.9 223.5,233.6 227.5,235.8 231.5,238.5 235.5,241.4 239.5,244.5 243.5,246.5 247.5,246.8 251.5,248.0 255.5,249.4 259.5,251.8 263.5,254.4 267.5,258.3 271.5,260.7 275.5,263.1 279.5,265.6 283.5,269.2 287.5,271.2 291.5,273.0 295.5,273.9 299.5,275.4 303.5,276.8 307.5,278.6 311.5,280.1 315.5,282.7 319.5,285.2 323.5,288.7 327.5,292.0 331.5,295.7 335.5,298.5 339.5,300.8 343.5,301.9 347.5,302.3 351.5,302.1 355.5,301.8 359.5,302.2 363.5,303.0 367.5,303.4 371.5,303.4 375.5,303.2 379.5,303.7 383.5,303.9 387.5,302.6 391.5,301.7 395.5,300.4 399.5,298.8 403.5,296.4 407.5,295.2 411.5,293.9 415.5,293.1 419.5,291.8 423.5,290.7 427.5,288.9 431.5,286.9 435.5,283.9 439.5,280.2 443.5,276.3 447.5,272.5 451.5,268.1 455.5,265.7 459.5,263.4 463.5,262.5 467.5,261.6 471.5,261.0 475.5,260.1 479.5,259.0 483.5,258.4 487.5,258.7 491.5,258.4 495.5,258.2 499.5,257.3 503.5,256.5 507.5,256.8 511.5,257.7 515.5,259.8 519.5,262.2 523.5,264.5 527.5,266.7 531.5,268.7 535.5,270.2 539.5,271.1 543.5,272.2 547.5,272.6 551.5,273.1 555.5,273.7 559.5,274.7 563.5,276.9 567.5,278.7 571.5,280.2 575.5,279.8 579.5,279.9 583.5,278.6 587.5,276.7 591.5,275.0 595.5,273.3 599.5,270.8 603.5,268.8 607.5,266.9 611.5,266.3 615.5,266.1 619.5,266.0 623.5,265.7 627.5,265.4 631.5,264.9 635.5,262.7 639.5,259.9 643.5,256.6 647.5,252.9 651.5,249.2 655.5,245.9 659.5,243.6 663.5,241.0 667.5,239.0 671.5,238.1 675.5,237.6 679.5,237.5 683.5,236.3 687.5,235.1 691.5,234.0 695.5,233.5 699.5,232.3 703.5,231.9 707.5,232.6 711.5,233.1 715.5,234.0 719.5,235.0 723.5,235.9 727.5,237.1 731.5,238.1 735.5,238.8 739.5,240.1 743.5,241.7 747.5,243.2 751.5,244.3 755.5,245.6 759.5,247.3 763.5,249.8 767.5,253.0 771.5,256.6 775.5,260.5 779.5,264.0 783.5,267.8 787.5,272.3 791.5,276.2 795.5,280.0 799.5,284.4 803.5,289.1 807.5,294.0 811.5,299.3 815.5,304.4 819.5,310.6 823.5,316.4 827.5,320.5 831.5,324.5 835.5,328.3 839.5,332.3 843.5,335.9 847.5,336.9 851.5,337.6 855.5,337.5 859.5,335.5 863.5,332.4 867.5,330.0 871.5,327.4 875.5,323.5 879.5,319.6 883.5,313.3 887.5,308.1 891.5,303.3 895.5,301.5 899.5,299.7 903.5,297.5 907.5,293.9 911.5,292.9 915.5,293.9 919.5,296.4 923.5,299.1 927.5,302.3 931.5,303.5 935.5,303.9 939.5,303.1 943.5,299.3 947.5,295.8 951.5,291.4 955.5,288.6 959.5,286.1 963.5,285.0 967.5,287.1 971.5,290.3 975.5,294.1 979.5,299.7 983.5,304.8 987.5,309.5 991.5,313.9 995.5,320.1 999.5,326.7 1003.5,335.5 1007.5,341.7 1011.5,348.1 1015.5,352.3 1019.5,355.4 1023.5,358.8 1027.5,363.3 1031.5,365.3 1035.5,365.4 1039.5,363.5 1043.5,361.5 1047.5,359.1 1051.5,357.9 1055.5,357.2 1059.5,356.9 1063.5,358.4 1067.5,359.5 1071.5,361.9 1075.5,363.7 1079.5,366.6 1083.5,368.7 1087.5,369.5 1091.5,368.2 1095.5,367.6 1099.5,367.4 1103.5,367.8 1107.5,368.3 1111.5,370.6 1115.5,372.9 1119.5,374.9 1123.5,374.9 1127.5,375.6 1131.5,374.4 1135.5,372.5 1139.5,372.1 1143.5,371.5 1147.5,371.2 1151.5,369.2 1155.5,366.8 1159.5,362.4 1163.5,357.1 1167.5,351.9 1171.5,346.8 1175.5,341.2 1179.5,335.3" fill="none" stroke="#0000ff" stroke-width="1" shape-rendering="crispEdges"/><polyline points="3.5,151.9 7.5,149.4 11.5,146.9 15.5,144.3 19.5,141.4 23.5,138.5 27.5,136.1 31.5,133.8 35.5,132.7 39.5,134.5 43.5,138.6 47.5,143.1 51.5,148.6 55.5,154.1 59.5,159.1 63.5,162.8 67.5,166.9 71.5,173.2 75.5,176.0 79.5,179.1 83.5,181.1 87.5,183.6 91.5,183.6 95.5,186.1 99.5,188.5 103.5,190.5 107.5,195.6 111.5,200.6 115.5,204.7 119.5,209.3 123.5,213.9 127.5,219.4 131.5,223.7 135.5,227.6 139.5,228.4 143.5,229.2 147.5,228.5 151.5,226.3 155.5,223.4 159.5,221.2 163.5,217.9 167.5,215.9 171.5,215.6 175.5,217.3 179.5,219.1 183.5,217.7 187.5,218.2 191.5,218.9 195.5,222.5 199.5,226.6 203.5,229.8 207.5,232.9 211.5,236.7 215.5,241.1 219.5,245.8 223.5,250.5 227.5,256.3 231.5,261.0 235.5,265.4 239.5,270.2 243.5,272.9 247.5,274.9 251.5,276.9 255.5,278.9 259.5,282.2 263.5,285.4 267.5,289.5 271.5,290.1 275.5,290.4 279.5,289.9 283.5,289.4 287.5,286.1 291.5,283.3 295.5,280.3 299.5,281.0 303.5,281.9 307.5,283.8 311.5,284.7 315.5,288.7 319.5,292.6 323.5,294.9 327.5,300.1 331.5,306.5 335.5,311.6 339.5,313.6 343.5,316.3 347.5,319.0 351.5,321.4 355.5,322.1 359.5,324.6 363.5,325.1 367.5,324.6 371.5,321.4 375.5,317.5 379.5,314.4 383.5,310.8 387.5,304.4 391.5,297.0 395.5,289.5 399.5,283.1 403.5,276.8 407.5,271.2 411.5,266.4 415.5,260.8 419.5,256.9 423.5,254.6 427.5,252.6 431.5,249.9 435.5,246.3 439.5,241.9 443.5,238.5 447.5,237.4 451.5,237.4 455.5,240.8 459.5,242.9 463.5,246.3 467.5,249.7 471.5,252.6 475.5,254.3 479.5,256.7 483.5,259.9 487.5,264.1 491.5,266.7 495.5,270.4 499.5,273.6 503.5,276.6 507.5,280.0 511.5,279.8 515.5,281.7 519.5,282.5 523.5,283.0 527.5,283.4 531.5,284.7 535.5,284.9 539.5,284.1 543.5,283.6 547.5,282.9 551.5,281.8 555.5,281.5 559.5,280.9 563.5,281.6 567.5,282.4 571.5,281.1 575.5,278.6 579.5,275.9 583.5,271.8 587.5,266.9 591.5,262.9 595.5,258.9 599.5,253.6 603.5,251.9 607.5,250.8 611.5,250.9 615.5,251.9 619.5,250.2 623.5,248.8 627.5,248.2 631.5,247.9 635.5,244.9 639.5,242.5 643.5,240.1 647.5,236.1 651.5,233.2 655.5,231.5 659.5,230.1 663.5,228.1 667.5,224.4 671.5,221.9 675.5,220.8 679.5,220.4 683.5,219.4 687.5,218.6 691.5,219.5 695.5,221.9 699.5,223.7 703.5,226.9 707.5,231.3 711.5,235.4 715.5,238.4 719.5,240.9 723.5,245.1 727.5,248.6 731.5,252.0 735.5,254.6 739.5,258.4 743.5,262.9 747.5,268.0 751.5,271.0 755.5,273.5 759.5,275.4 763.5,276.9 767.5,278.8 771.5,281.6 775.5,286.1 779.5,290.3 783.5,294.0 787.5,297.6 791.5,301.9 795.5,306.3 799.5,311.9 803.5,317.7 807.5,325.0 811.5,334.4 815.5,344.3 819.5,354.0 823.5,362.6 827.5,368.1 831.5,372.4 835.5,376.4 839.5,379.2 843.5,381.3 847.5,378.7 851.5,375.3 855.5,368.4 859.5,357.8 863.5,345.2 867.5,333.9 871.5,320.4 875.5,301.2 879.5,282.3 883.5,261.5 887.5,243.8 891.5,228.1 895.5,220.1 899.5,212.7 903.5,209.5 907.5,204.0 911.5,206.2 915.5,217.1 919.5,234.8 923.5,251.6 927.5,271.2 931.5,291.4 935.5,310.6 939.5,332.1 943.5,343.8 947.5,352.0 951.5,350.6 955.5,352.6 959.5,354.7 963.5,362.2 967.5,366.4 971.5,367.7 975.5,363.6 979.5,359.1 983.5,350.5 987.5,346.8 991.5,341.8 995.5,337.5 999.5,341.0 1003.5,346.6 1007.5,351.6 1011.5,355.6 1015.5,362.0 1019.5,363.6 1023.5,363.2 1027.5,360.4 1031.5,358.8 1035.5,357.9 1039.5,360.6 1043.5,363.0 1047.5,368.0 1051.5,372.5 1055.5,375.9 1059.5,377.9 1063.5,379.6 1067.5,376.3 1071.5,371.2 1075.5,370.4 1079.5,371.3 1083.5,373.9 1087.5,375.3 1091.5,373.6 1095.5,372.6 1099.5,371.7 1103.5,369.2 1107.5,369.0 1111.5,370.4 1115.5,371.8 1119.5,376.2 1123.5,379.7 1127.5,381.1 1131.5,378.6 1135.5,374.7 1139.5,370.7 1143.5,367.6 1147.5,366.9 1151.5,362.1 1155.5,356.6 1159.5,349.1 1163.5,339.1 1167.5,328.0 1171.5,316.7 1175.5,303.7 1179.5,293.0" fill="none" stroke="#ff0000" stroke-width="1" shape-rendering="crispEdges"/><polyline points="3.5,111.5 7.5,108.0 11.5,107.2 15.5,108.8 19.5,115.9 23.5,125.1 27.5,135.1 31.5,144.5 35.5,161.5 39.5,170.1 43.5,179.5 47.5,186.1 51.5,188.3 55.5,183.3 59.5,180.3 63.5,173.7 67.5,168.3 71.5,173.7 75.5,177.1 79.5,181.1 83.5,186.5 87.5,191.1 91.5,190.5 95.5,198.3 99.5,205.7 103.5,212.3 107.5,222.1 111.5,231.1 115.5,232.5 119.5,231.9 123.5,233.7 127.5,240.1 131.5,241.7 135.5,245.1 139.5,239.9 143.5,234.1 147.5,216.1 151.5,205.5 155.5,193.9 159.5,192.3 163.5,190.5 167.5,195.7 171.5,202.7 175.5,214.9 179.5,227.7 183.5,239.5 187.5,248.3 191.5,254.1 195.5,254.5 199.5,255.1 203.5,249.9 207.5,246.7 211.5,243.9 215.5,244.3 219.5,244.3 223.5,253.7 227.5,268.1 231.5,282.9 235.5,295.9 239.5,307.9 243.5,311.1 247.5,306.1 251.5,299.1 255.5,292.9 259.5,283.5 263.5,281.5 267.5,284.9 271.5,281.3 275.5,276.3 279.5,275.3 283.5,279.3 287.5,273.3 291.5,276.7 295.5,279.7 299.5,286.1 303.5,285.1 307.5,292.7 311.5,296.9 315.5,307.1 319.5,313.9 323.5,321.5 327.5,326.9 331.5,337.3 335.5,339.3 339.5,338.1 343.5,333.1 347.5,329.7 351.5,321.3 355.5,315.7 359.5,316.1 363.5,317.5 367.5,312.7 371.5,307.1 375.5,300.9 379.5,292.9 383.5,286.7 387.5,280.5 391.5,271.1 395.5,259.7 399.5,245.5 403.5,234.5 407.5,228.5 411.5,229.9 415.5,235.7 419.5,244.1 423.5,250.7 427.5,254.9 431.5,254.9 435.5,252.3 439.5,244.7 443.5,235.3 447.5,228.5 451.5,224.5 455.5,230.1 459.5,237.3 463.5,250.3 467.5,264.5 471.5,278.5 475.5,281.9 479.5,289.3 483.5,293.1 487.5,295.3 491.5,291.7 495.5,289.7 499.5,282.7 503.5,275.3 507.5,268.9 511.5,266.7 515.5,269.1 519.5,275.1 523.5,282.3 527.5,288.1 531.5,295.7 535.5,298.3 539.5,297.7 543.5,297.1 547.5,290.1 551.5,281.5 555.5,273.1 559.5,266.1 563.5,263.3 567.5,265.5 571.5,267.1 575.5,266.9 579.5,268.3 583.5,260.5 587.5,252.1 591.5,247.3 595.5,242.5 599.5,234.9 603.5,234.3 607.5,236.5 611.5,239.7 615.5,246.5 619.5,253.7 623.5,256.9 627.5,259.9 631.5,258.3 635.5,248.9 639.5,238.9 643.5,227.7 647.5,213.3 651.5,201.5 655.5,197.3 659.5,199.5 663.5,203.1 667.5,206.9 671.5,214.7 675.5,223.7 679.5,229.9 683.5,235.5 687.5,242.1 691.5,242.3 695.5,242.1 699.5,236.9 703.5,234.1 707.5,237.1 711.5,241.9 715.5,245.7 719.5,251.3 723.5,257.9 727.5,263.1 731.5,270.1 735.5,275.3 739.5,284.3 743.5,292.1 747.5,296.7 751.5,295.3 755.5,289.7 759.5,281.7 763.5,276.1 767.5,272.1 771.5,275.5 775.5,286.7 779.5,299.7 783.5,311.1 787.5,322.9 791.5,332.1 795.5,340.7 799.5,352.7 803.5,363.1 807.5,371.9 811.5,380.7 815.5,388.1 819.5,393.9 823.5,397.9 827.5,396.3 831.5,393.1 835.5,389.5 839.5,381.7 843.5,375.1 847.5,361.7 851.5,348.7 855.5,330.5 859.5,303.1 863.5,270.9 867.5,255.1 871.5,234.3 875.5,205.7 879.5,186.5 883.5,161.9 887.5,140.9 891.5,131.1 895.5,154.7 899.5,180.3 903.5,216.1 907.5,237.3 911.5,269.3 915.5,294.7 919.5,332.7 923.5,372.9 927.5,422.5 931.5,444.3 935.5,448.3 939.5,434.5 943.5,399.1 947.5,357.3 951.5,320.5 955.5,297.7 959.5,279.3 963.5,288.9 967.5,309.5 971.5,342.5 975.5,363.7 979.5,385.1 983.5,389.7 987.5,389.5 991.5,375.7 995.5,361.3 999.5,348.5 1003.5,346.5 1007.5,334.1 1011.5,336.5 1015.5,347.9 1019.5,352.1 1023.5,355.9 1027.5,366.9 1031.5,372.5 1035.5,373.7 1039.5,381.3 1043.5,388.9 1047.5,397.1 1051.5,399.7 1055.5,398.9 1059.5,394.9 1063.5,380.7 1067.5,359.7 1071.5,344.3 1075.5,336.5 1079.5,337.5 1083.5,350.7 1087.5,369.7 1091.5,380.3 1095.5,387.5 1099.5,390.1 1103.5,384.1 1107.5,382.1 1111.5,390.1 1115.5,392.7 1119.5,393.3 1123.5,389.1 1127.5,378.3 1131.5,359.5 1135.5,345.7 1139.5,335.3 1143.5,335.7 1147.5,340.3 1151.5,341.1 1155.5,339.5 1159.5,323.5 1163.5,302.3 1167.5,281.3 1171.5,265.7 1175.5,245.1 1179.5,232.1" fill="none" stroke="#ffa500" stroke-width="1" shape-rendering="crispEdges"/><g shape-rendering="crispEdges"><rect x="2" y="247" width="6" height="6" fill="#00ff00"/><rect x="4" y="249" width="2" height="2" fill="#fff"/><rect x="1481" y="247" width="6" height="6" fill="#00ff00"/><rect x="1483" y="249" width="2" height="2" fill="#fff"/><rect x="2" y="299" width="6" height="6" fill="#0000ff"/><rect x="4" y="301" width="2" height="2" fill="#fff"/><rect x="1481" y="299" width="6" height="6" fill="#0000ff"/><rect x="1483" y="301" width="2" height="2" fill="#fff"/><rect x="2" y="361" width="6" height="6" fill="#0000ff"/><rect x="4" y="363" width="2" height="2" fill="#fff"/><rect x="1481" y="361" width="6" height="6" fill="#0000ff"/><rect x="1483" y="363" width="2" height="2" fill="#fff"/></g><polygon points="1184,25 1193,25 1188.5,30" fill="#c0c0c0"/></svg><polygon points="6,31 13,31 9.5,35" fill="#000"/><text x="18" y="36" font-size="10.5" fill="#000" stroke="#000" stroke-width="0.25" text-anchor="start" textLength="63.5" lengthAdjust="spacingAndGlyphs" >EURUSD,Daily</text><text x="89" y="36" font-size="10.5" fill="#000" stroke="#000" stroke-width="0.25" text-anchor="start" textLength="140" lengthAdjust="spacingAndGlyphs" >1.11652 1.11999 1.11604 1.11951</text><g shape-rendering="crispEdges"><rect x="1488" y="35" width="2" height="1" fill="#000"/><rect x="1488" y="68" width="2" height="1" fill="#000"/><rect x="1488" y="101" width="2" height="1" fill="#000"/><rect x="1488" y="134" width="2" height="1" fill="#000"/><rect x="1488" y="167" width="2" height="1" fill="#000"/><rect x="1488" y="200" width="2" height="1" fill="#000"/><rect x="1488" y="233" width="2" height="1" fill="#000"/><rect x="1488" y="266" width="2" height="1" fill="#000"/><rect x="1488" y="299" width="2" height="1" fill="#000"/><rect x="1488" y="332" width="2" height="1" fill="#000"/><rect x="1488" y="365" width="2" height="1" fill="#000"/><rect x="1488" y="398" width="2" height="1" fill="#000"/><rect x="1488" y="431" width="2" height="1" fill="#000"/><rect x="1488" y="464" width="2" height="1" fill="#000"/><rect x="1488" y="497" width="2" height="1" fill="#000"/></g><text x="1493.5" y="39" font-size="10" fill="#000" stroke="#000" stroke-width="0.25" text-anchor="start" textLength="32.5" lengthAdjust="spacingAndGlyphs" >1.15190</text><text x="1493.5" y="72" font-size="10" fill="#000" stroke="#000" stroke-width="0.25" text-anchor="start" textLength="32.5" lengthAdjust="spacingAndGlyphs" >1.14545</text><text x="1493.5" y="105" font-size="10" fill="#000" stroke="#000" stroke-width="0.25" text-anchor="start" textLength="32.5" lengthAdjust="spacingAndGlyphs" >1.13915</text><text x="1493.5" y="138" font-size="10" fill="#000" stroke="#000" stroke-width="0.25" text-anchor="start" textLength="32.5" lengthAdjust="spacingAndGlyphs" >1.13270</text><text x="1493.5" y="171" font-size="10" fill="#000" stroke="#000" stroke-width="0.25" text-anchor="start" textLength="32.5" lengthAdjust="spacingAndGlyphs" >1.12625</text><text x="1493.5" y="237" font-size="10" fill="#000" stroke="#000" stroke-width="0.25" text-anchor="start" textLength="32.5" lengthAdjust="spacingAndGlyphs" >1.11335</text><text x="1493.5" y="270" font-size="10" fill="#000" stroke="#000" stroke-width="0.25" text-anchor="start" textLength="32.5" lengthAdjust="spacingAndGlyphs" >1.10705</text><text x="1493.5" y="336" font-size="10" fill="#000" stroke="#000" stroke-width="0.25" text-anchor="start" textLength="32.5" lengthAdjust="spacingAndGlyphs" >1.09415</text><text x="1493.5" y="402" font-size="10" fill="#000" stroke="#000" stroke-width="0.25" text-anchor="start" textLength="32.5" lengthAdjust="spacingAndGlyphs" >1.08125</text><text x="1493.5" y="435" font-size="10" fill="#000" stroke="#000" stroke-width="0.25" text-anchor="start" textLength="32.5" lengthAdjust="spacingAndGlyphs" >1.07495</text><text x="1493.5" y="468" font-size="10" fill="#000" stroke="#000" stroke-width="0.25" text-anchor="start" textLength="32.5" lengthAdjust="spacingAndGlyphs" >1.06850</text><text x="1493.5" y="501" font-size="10" fill="#000" stroke="#000" stroke-width="0.25" text-anchor="start" textLength="32.5" lengthAdjust="spacingAndGlyphs" >1.06205</text><rect x="1489" y="197" width="39" height="11" fill="#000000" shape-rendering="crispEdges"/><text x="1493.5" y="206" font-size="10" fill="#fff" stroke="#fff" stroke-width="0.05" text-anchor="start" textLength="32.5" lengthAdjust="spacingAndGlyphs" >1.11951</text><rect x="1489" y="140" width="39" height="11" fill="#ff0000" shape-rendering="crispEdges"/><text x="1493.5" y="149" font-size="10" fill="#fff" stroke="#fff" stroke-width="0.05" text-anchor="start" textLength="32.5" lengthAdjust="spacingAndGlyphs" >1.13034</text><rect x="1489" y="193" width="39" height="11" fill="#ff0000" shape-rendering="crispEdges"/><text x="1493.5" y="202" font-size="10" fill="#fff" stroke="#fff" stroke-width="0.05" text-anchor="start" textLength="32.5" lengthAdjust="spacingAndGlyphs" >1.12004</text><rect x="1489" y="244" width="39" height="11" fill="#00ff00" shape-rendering="crispEdges"/><text x="1493.5" y="253" font-size="10" fill="#fff" stroke="#fff" stroke-width="0.05" text-anchor="start" textLength="32.5" lengthAdjust="spacingAndGlyphs" >1.11009</text><rect x="1489" y="296" width="39" height="11" fill="#0000ff" shape-rendering="crispEdges"/><text x="1493.5" y="305" font-size="10" fill="#fff" stroke="#fff" stroke-width="0.05" text-anchor="start" textLength="32.5" lengthAdjust="spacingAndGlyphs" >1.10008</text><rect x="1489" y="358" width="39" height="11" fill="#0000ff" shape-rendering="crispEdges"/><text x="1493.5" y="367" font-size="10" fill="#fff" stroke="#fff" stroke-width="0.05" text-anchor="start" textLength="32.5" lengthAdjust="spacingAndGlyphs" >1.08800</text><rect x="1489" y="414" width="39" height="11" fill="#0000ff" shape-rendering="crispEdges"/><text x="1493.5" y="423" font-size="10" fill="#fff" stroke="#fff" stroke-width="0.05" text-anchor="start" textLength="32.5" lengthAdjust="spacingAndGlyphs" >1.07697</text><rect x="1489" y="486" width="39" height="11" fill="#0000ff" shape-rendering="crispEdges"/><text x="1493.5" y="495" font-size="10" fill="#fff" stroke="#fff" stroke-width="0.05" text-anchor="start" textLength="32.5" lengthAdjust="spacingAndGlyphs" >1.06306</text><rect x="1488" y="501" width="40" height="1" fill="#fff"/><g shape-rendering="crispEdges"><rect x="2.5" y="502.5" width="1485" height="87" fill="#fff" stroke="#000" stroke-width="1"/></g><text x="7" y="516" font-size="10.5" fill="#000" stroke="#000" stroke-width="0.25" text-anchor="start" textLength="67" lengthAdjust="spacingAndGlyphs" >RSI(14) 73.6173</text><line x1="4" y1="529.5" x2="1487" y2="529.5" stroke="#c0c0c0" stroke-width="1" stroke-dasharray="3,3" shape-rendering="crispEdges"/><line x1="4" y1="563.5" x2="1487" y2="563.5" stroke="#c0c0c0" stroke-width="1" stroke-dasharray="3,3" shape-rendering="crispEdges"/><text x="1491" y="513.5" font-size="10" fill="#000" stroke="#000" stroke-width="0.25" text-anchor="start" textLength="15.0" lengthAdjust="spacingAndGlyphs" >100</text><text x="1491" y="533.6" font-size="10" fill="#000" stroke="#000" stroke-width="0.25" text-anchor="start" textLength="10.0" lengthAdjust="spacingAndGlyphs" >70</text><text x="1491" y="567.2" font-size="10" fill="#000" stroke="#000" stroke-width="0.25" text-anchor="start" textLength="10.0" lengthAdjust="spacingAndGlyphs" >30</text><text x="1491" y="586.5" font-size="10" fill="#000" stroke="#000" stroke-width="0.25" text-anchor="start" textLength="5.0" lengthAdjust="spacingAndGlyphs" >0</text><g shape-rendering="crispEdges"></g><g shape-rendering="crispEdges"><rect x="2.5" y="591.5" width="1485" height="86" fill="#fff" stroke="#000" stroke-width="1"/><rect x="1488" y="640" width="2" height="1" fill="#000"/><rect x="1488" y="593" width="2" height="1" fill="#000"/><rect x="1488" y="676" width="2" height="1" fill="#000"/><rect x="1488" y="504" width="2" height="1" fill="#000"/><rect x="1488" y="588" width="2" height="1" fill="#000"/></g><text x="7" y="605" font-size="10.5" fill="#000" stroke="#000" stroke-width="0.25" text-anchor="start" textLength="148" lengthAdjust="spacingAndGlyphs" >MACD(12,26,9) 0.007343 0.003990</text><text x="1491.3" y="602.6" font-size="10" fill="#000" stroke="#000" stroke-width="0.25" text-anchor="start" textLength="36.9" lengthAdjust="spacingAndGlyphs" >0.011277</text><text x="1491.3" y="644.5" font-size="10" fill="#000" stroke="#000" stroke-width="0.25" text-anchor="start" textLength="17.5" lengthAdjust="spacingAndGlyphs" >0.00</text><text x="1491.3" y="675" font-size="10" fill="#000" stroke="#000" stroke-width="0.25" text-anchor="start" textLength="40.5" lengthAdjust="spacingAndGlyphs" >-0.008845</text><svg x="3" y="503" width="1484" height="86" viewBox="3 503 1484 86" overflow="hidden"><polyline points="3.5,532.4 7.5,534.8 11.5,534.5 15.5,534.0 19.5,543.8 23.5,544.7 27.5,547.6 31.5,546.5 35.5,553.4 39.5,552.5 43.5,553.9 47.5,553.7 51.5,546.8 55.5,546.6 59.5,548.0 63.5,545.5 67.5,546.8 71.5,553.0 75.5,550.0 79.5,552.0 83.5,551.1 87.5,551.4 91.5,551.6 95.5,558.6 99.5,559.9 103.5,557.4 107.5,560.6 111.5,559.5 115.5,556.9 119.5,555.8 123.5,557.0 127.5,564.6 131.5,555.6 135.5,556.0 139.5,544.4 143.5,544.9 147.5,540.6 151.5,543.0 155.5,542.4 159.5,543.5 163.5,543.7 167.5,547.5 171.5,552.0 175.5,556.6 179.5,557.8 183.5,556.6 187.5,556.2 191.5,557.1 195.5,555.6 199.5,557.5 203.5,546.8 207.5,549.1 211.5,550.6 215.5,553.5 219.5,554.9 223.5,557.9 227.5,563.8 231.5,564.9 235.5,565.3 239.5,565.5 243.5,554.8 247.5,552.7 251.5,552.1 255.5,553.8 259.5,549.0 263.5,550.8 267.5,555.5 271.5,545.4 275.5,545.4 279.5,546.7 283.5,553.8 287.5,546.5 291.5,548.6 295.5,548.2 299.5,552.7 303.5,551.4 307.5,554.0 311.5,552.1 315.5,557.3 319.5,558.1 323.5,557.8 327.5,558.2 331.5,561.4 335.5,556.7 339.5,553.4 343.5,547.9 347.5,550.2 351.5,548.3 355.5,548.3 359.5,552.9 363.5,548.6 367.5,543.4 371.5,540.9 375.5,540.3 379.5,543.2 383.5,541.7 387.5,537.1 391.5,532.3 395.5,530.3 399.5,529.7 403.5,533.1 407.5,534.5 411.5,537.8 415.5,540.7 419.5,543.4 423.5,543.7 427.5,541.5 431.5,538.7 435.5,537.7 439.5,534.0 443.5,532.4 447.5,534.4 451.5,535.6 455.5,549.7 459.5,547.5 463.5,552.5 467.5,554.8 471.5,555.2 475.5,552.3 479.5,555.1 483.5,555.7 487.5,556.4 491.5,547.6 495.5,547.3 499.5,543.6 503.5,543.9 507.5,546.5 511.5,544.6 515.5,551.1 519.5,552.5 523.5,554.3 527.5,554.5 531.5,555.4 535.5,554.1 539.5,549.5 543.5,551.8 547.5,541.4 551.5,540.0 555.5,539.5 559.5,538.3 563.5,548.2 567.5,546.3 571.5,543.8 575.5,540.7 579.5,542.1 583.5,537.3 587.5,535.2 591.5,539.0 595.5,536.3 599.5,534.0 603.5,540.3 607.5,542.0 611.5,546.7 615.5,548.8 619.5,546.2 623.5,545.3 627.5,546.6 631.5,544.0 635.5,535.6 639.5,533.3 643.5,531.5 647.5,529.4 651.5,531.4 655.5,533.8 659.5,541.4 663.5,540.9 667.5,538.1 671.5,546.1 675.5,549.3 679.5,551.0 683.5,549.5 687.5,547.6 691.5,545.4 695.5,548.5 699.5,543.1 703.5,545.3 707.5,551.6 711.5,552.1 715.5,553.4 719.5,550.3 723.5,553.5 727.5,557.2 731.5,559.5 735.5,558.0 739.5,560.1 743.5,561.3 747.5,561.3 751.5,553.5 755.5,545.5 759.5,544.9 763.5,550.1 767.5,552.1 771.5,556.3 775.5,559.1 779.5,560.4 783.5,562.3 787.5,564.0 791.5,564.8 795.5,566.6 799.5,569.8 803.5,570.1 807.5,570.3 811.5,571.0 815.5,571.5 819.5,573.5 823.5,569.9 827.5,558.7 831.5,557.5 835.5,558.0 839.5,555.9 843.5,555.5 847.5,537.9 851.5,537.7 855.5,533.1 859.5,526.2 863.5,523.8 867.5,530.0 871.5,527.2 875.5,522.2 879.5,521.9 883.5,518.9 887.5,527.6 891.5,533.2 895.5,547.3 899.5,547.9 903.5,547.8 907.5,543.9 911.5,552.7 915.5,558.2 919.5,562.3 923.5,562.9 927.5,563.7 931.5,556.8 935.5,554.8 939.5,552.5 943.5,543.4 947.5,541.9 951.5,539.6 955.5,544.6 959.5,544.8 963.5,548.6 967.5,551.7 971.5,554.1 975.5,553.4 979.5,553.6 983.5,548.9 987.5,550.1 991.5,546.2 995.5,545.2 999.5,546.4 1003.5,547.8 1007.5,543.4 1011.5,547.7 1015.5,551.3 1019.5,548.3 1023.5,549.4 1027.5,549.0 1031.5,550.3 1035.5,551.8 1039.5,552.6 1043.5,553.8 1047.5,553.8 1051.5,550.7 1055.5,550.0 1059.5,548.4 1063.5,541.8 1067.5,537.4 1071.5,539.4 1075.5,545.1 1079.5,550.0 1083.5,552.6 1087.5,551.7 1091.5,546.8 1095.5,549.2 1099.5,550.9 1103.5,547.1 1107.5,549.3 1111.5,552.0 1115.5,550.2 1119.5,550.5 1123.5,542.8 1127.5,540.4 1131.5,537.7 1135.5,540.4 1139.5,543.8 1143.5,544.9 1147.5,545.5 1151.5,539.4 1155.5,540.0 1159.5,533.4 1163.5,531.5 1167.5,532.3 1171.5,531.0 1175.5,528.8 1179.5,527.4" fill="none" stroke="#1e90ff" stroke-width="1" shape-rendering="crispEdges"/></svg><svg x="3" y="592" width="1484" height="85" viewBox="3 592 1484 85" overflow="hidden"><g shape-rendering="crispEdges" fill="#c0c0c0"><rect x="3" y="625" width="1" height="16"/><rect x="7" y="624" width="1" height="17"/><rect x="11" y="623" width="1" height="18"/><rect x="15" y="623" width="1" height="18"/><rect x="19" y="625" width="1" height="16"/><rect x="23" y="627" width="1" height="14"/><rect x="27" y="630" width="1" height="11"/><rect x="31" y="632" width="1" height="9"/><rect x="35" y="636" width="1" height="5"/><rect x="39" y="639" width="1" height="2"/><rect x="43" y="640" width="1" height="3"/><rect x="47" y="640" width="1" height="5"/><rect x="51" y="640" width="1" height="4"/><rect x="55" y="640" width="1" height="4"/><rect x="59" y="640" width="1" height="4"/><rect x="63" y="640" width="1" height="4"/><rect x="67" y="640" width="1" height="4"/><rect x="71" y="640" width="1" height="5"/><rect x="75" y="640" width="1" height="6"/><rect x="79" y="640" width="1" height="7"/><rect x="83" y="640" width="1" height="7"/><rect x="87" y="640" width="1" height="7"/><rect x="91" y="640" width="1" height="8"/><rect x="95" y="640" width="1" height="10"/><rect x="99" y="640" width="1" height="12"/><rect x="103" y="640" width="1" height="13"/><rect x="107" y="640" width="1" height="15"/><rect x="111" y="640" width="1" height="16"/><rect x="115" y="640" width="1" height="16"/><rect x="119" y="640" width="1" height="16"/><rect x="123" y="640" width="1" height="16"/><rect x="127" y="640" width="1" height="18"/><rect x="131" y="640" width="1" height="18"/><rect x="135" y="640" width="1" height="18"/><rect x="139" y="640" width="1" height="15"/><rect x="143" y="640" width="1" height="12"/><rect x="147" y="640" width="1" height="8"/><rect x="151" y="640" width="1" height="6"/><rect x="155" y="640" width="1" height="4"/><rect x="159" y="640" width="1" height="3"/><rect x="163" y="640" width="1" height="2"/><rect x="167" y="640" width="1" height="2"/><rect x="171" y="640" width="1" height="3"/><rect x="175" y="640" width="1" height="6"/><rect x="179" y="640" width="1" height="8"/><rect x="183" y="640" width="1" height="10"/><rect x="187" y="640" width="1" height="11"/><rect x="191" y="640" width="1" height="12"/><rect x="195" y="640" width="1" height="12"/><rect x="199" y="640" width="1" height="13"/><rect x="203" y="640" width="1" height="11"/><rect x="207" y="640" width="1" height="10"/><rect x="211" y="640" width="1" height="9"/><rect x="215" y="640" width="1" height="10"/><rect x="219" y="640" width="1" height="10"/><rect x="223" y="640" width="1" height="12"/><rect x="227" y="640" width="1" height="15"/><rect x="231" y="640" width="1" height="18"/><rect x="235" y="640" width="1" height="20"/><rect x="239" y="640" width="1" height="21"/><rect x="243" y="640" width="1" height="20"/><rect x="247" y="640" width="1" height="19"/><rect x="251" y="640" width="1" height="17"/><rect x="255" y="640" width="1" height="16"/><rect x="259" y="640" width="1" height="15"/><rect x="263" y="640" width="1" height="13"/><rect x="267" y="640" width="1" height="14"/><rect x="271" y="640" width="1" height="11"/><rect x="275" y="640" width="1" height="9"/><rect x="279" y="640" width="1" height="8"/><rect x="283" y="640" width="1" height="9"/><rect x="287" y="640" width="1" height="8"/><rect x="291" y="640" width="1" height="7"/><rect x="295" y="640" width="1" height="7"/><rect x="299" y="640" width="1" height="8"/><rect x="303" y="640" width="1" height="8"/><rect x="307" y="640" width="1" height="9"/><rect x="311" y="640" width="1" height="9"/><rect x="315" y="640" width="1" height="11"/><rect x="319" y="640" width="1" height="13"/><rect x="323" y="640" width="1" height="14"/><rect x="327" y="640" width="1" height="15"/><rect x="331" y="640" width="1" height="17"/><rect x="335" y="640" width="1" height="17"/><rect x="339" y="640" width="1" height="16"/><rect x="343" y="640" width="1" height="14"/><rect x="347" y="640" width="1" height="13"/><rect x="351" y="640" width="1" height="12"/><rect x="355" y="640" width="1" height="10"/><rect x="359" y="640" width="1" height="10"/><rect x="363" y="640" width="1" height="9"/><rect x="367" y="640" width="1" height="7"/><rect x="371" y="640" width="1" height="5"/><rect x="375" y="640" width="1" height="2"/><rect x="379" y="640" width="1" height="1"/><rect x="383" y="639" width="1" height="2"/><rect x="387" y="637" width="1" height="4"/><rect x="391" y="633" width="1" height="8"/><rect x="395" y="629" width="1" height="12"/><rect x="399" y="626" width="1" height="15"/><rect x="403" y="625" width="1" height="16"/><rect x="407" y="624" width="1" height="17"/><rect x="411" y="624" width="1" height="17"/><rect x="415" y="625" width="1" height="16"/><rect x="419" y="627" width="1" height="14"/><rect x="423" y="628" width="1" height="13"/><rect x="427" y="629" width="1" height="12"/><rect x="431" y="629" width="1" height="12"/><rect x="435" y="629" width="1" height="12"/><rect x="439" y="628" width="1" height="13"/><rect x="443" y="626" width="1" height="15"/><rect x="447" y="626" width="1" height="15"/><rect x="451" y="626" width="1" height="15"/><rect x="455" y="629" width="1" height="12"/><rect x="459" y="631" width="1" height="10"/><rect x="463" y="634" width="1" height="7"/><rect x="467" y="637" width="1" height="4"/><rect x="471" y="640" width="1" height="1"/><rect x="475" y="640" width="1" height="2"/><rect x="479" y="640" width="1" height="4"/><rect x="483" y="640" width="1" height="6"/><rect x="487" y="640" width="1" height="7"/><rect x="491" y="640" width="1" height="6"/><rect x="495" y="640" width="1" height="6"/><rect x="499" y="640" width="1" height="4"/><rect x="503" y="640" width="1" height="3"/><rect x="507" y="640" width="1" height="3"/><rect x="511" y="640" width="1" height="2"/><rect x="515" y="640" width="1" height="3"/><rect x="519" y="640" width="1" height="4"/><rect x="523" y="640" width="1" height="5"/><rect x="527" y="640" width="1" height="6"/><rect x="531" y="640" width="1" height="7"/><rect x="535" y="640" width="1" height="7"/><rect x="539" y="640" width="1" height="7"/><rect x="543" y="640" width="1" height="7"/><rect x="547" y="640" width="1" height="5"/><rect x="551" y="640" width="1" height="3"/><rect x="555" y="640" width="1" height="1"/><rect x="559" y="638" width="1" height="3"/><rect x="563" y="639" width="1" height="2"/><rect x="567" y="639" width="1" height="2"/><rect x="571" y="639" width="1" height="2"/><rect x="575" y="638" width="1" height="3"/><rect x="579" y="637" width="1" height="4"/><rect x="583" y="635" width="1" height="6"/><rect x="587" y="634" width="1" height="7"/><rect x="591" y="633" width="1" height="8"/><rect x="595" y="632" width="1" height="9"/><rect x="599" y="630" width="1" height="11"/><rect x="603" y="630" width="1" height="11"/><rect x="607" y="631" width="1" height="10"/><rect x="611" y="632" width="1" height="9"/><rect x="615" y="634" width="1" height="7"/><rect x="619" y="635" width="1" height="6"/><rect x="623" y="635" width="1" height="6"/><rect x="627" y="636" width="1" height="5"/><rect x="631" y="636" width="1" height="5"/><rect x="635" y="634" width="1" height="7"/><rect x="639" y="632" width="1" height="9"/><rect x="643" y="630" width="1" height="11"/><rect x="647" y="627" width="1" height="14"/><rect x="651" y="626" width="1" height="15"/><rect x="655" y="625" width="1" height="16"/><rect x="659" y="626" width="1" height="15"/><rect x="663" y="627" width="1" height="14"/><rect x="667" y="627" width="1" height="14"/><rect x="671" y="629" width="1" height="12"/><rect x="675" y="632" width="1" height="9"/><rect x="679" y="634" width="1" height="7"/><rect x="683" y="636" width="1" height="5"/><rect x="687" y="637" width="1" height="4"/><rect x="691" y="637" width="1" height="4"/><rect x="695" y="638" width="1" height="3"/><rect x="699" y="637" width="1" height="4"/><rect x="703" y="637" width="1" height="4"/><rect x="707" y="639" width="1" height="2"/><rect x="711" y="640" width="1" height="2"/><rect x="715" y="640" width="1" height="3"/><rect x="719" y="640" width="1" height="3"/><rect x="723" y="640" width="1" height="5"/><rect x="727" y="640" width="1" height="7"/><rect x="731" y="640" width="1" height="9"/><rect x="735" y="640" width="1" height="10"/><rect x="739" y="640" width="1" height="12"/><rect x="743" y="640" width="1" height="13"/><rect x="747" y="640" width="1" height="14"/><rect x="751" y="640" width="1" height="14"/><rect x="755" y="640" width="1" height="11"/><rect x="759" y="640" width="1" height="9"/><rect x="763" y="640" width="1" height="9"/><rect x="767" y="640" width="1" height="9"/><rect x="771" y="640" width="1" height="10"/><rect x="775" y="640" width="1" height="12"/><rect x="779" y="640" width="1" height="13"/><rect x="783" y="640" width="1" height="15"/><rect x="787" y="640" width="1" height="17"/><rect x="791" y="640" width="1" height="19"/><rect x="795" y="640" width="1" height="20"/><rect x="799" y="640" width="1" height="23"/><rect x="803" y="640" width="1" height="25"/><rect x="807" y="640" width="1" height="27"/><rect x="811" y="640" width="1" height="28"/><rect x="815" y="640" width="1" height="29"/><rect x="819" y="640" width="1" height="30"/><rect x="823" y="640" width="1" height="30"/><rect x="827" y="640" width="1" height="29"/><rect x="831" y="640" width="1" height="27"/><rect x="835" y="640" width="1" height="25"/><rect x="839" y="640" width="1" height="23"/><rect x="843" y="640" width="1" height="21"/><rect x="847" y="640" width="1" height="16"/><rect x="851" y="640" width="1" height="11"/><rect x="855" y="640" width="1" height="6"/><rect x="859" y="637" width="1" height="4"/><rect x="863" y="630" width="1" height="11"/><rect x="867" y="625" width="1" height="16"/><rect x="871" y="620" width="1" height="21"/><rect x="875" y="613" width="1" height="28"/><rect x="879" y="607" width="1" height="34"/><rect x="883" y="599" width="1" height="42"/><rect x="887" y="596" width="1" height="45"/><rect x="891" y="596" width="1" height="45"/><rect x="895" y="603" width="1" height="38"/><rect x="899" y="610" width="1" height="31"/><rect x="903" y="615" width="1" height="26"/><rect x="907" y="618" width="1" height="23"/><rect x="911" y="625" width="1" height="16"/><rect x="915" y="636" width="1" height="5"/><rect x="919" y="640" width="1" height="10"/><rect x="923" y="640" width="1" height="21"/><rect x="927" y="640" width="1" height="30"/><rect x="931" y="640" width="1" height="33"/><rect x="935" y="640" width="1" height="34"/><rect x="939" y="640" width="1" height="33"/><rect x="943" y="640" width="1" height="26"/><rect x="947" y="640" width="1" height="18"/><rect x="951" y="640" width="1" height="10"/><rect x="955" y="640" width="1" height="7"/><rect x="959" y="640" width="1" height="5"/><rect x="963" y="640" width="1" height="6"/><rect x="967" y="640" width="1" height="9"/><rect x="971" y="640" width="1" height="14"/><rect x="975" y="640" width="1" height="17"/><rect x="979" y="640" width="1" height="19"/><rect x="983" y="640" width="1" height="18"/><rect x="987" y="640" width="1" height="17"/><rect x="991" y="640" width="1" height="15"/><rect x="995" y="640" width="1" height="12"/><rect x="999" y="640" width="1" height="10"/><rect x="1003" y="640" width="1" height="9"/><rect x="1007" y="640" width="1" height="6"/><rect x="1011" y="640" width="1" height="6"/><rect x="1015" y="640" width="1" height="8"/><rect x="1019" y="640" width="1" height="8"/><rect x="1023" y="640" width="1" height="9"/><rect x="1027" y="640" width="1" height="9"/><rect x="1031" y="640" width="1" height="10"/><rect x="1035" y="640" width="1" height="11"/><rect x="1039" y="640" width="1" height="12"/><rect x="1043" y="640" width="1" height="14"/><rect x="1047" y="640" width="1" height="15"/><rect x="1051" y="640" width="1" height="15"/><rect x="1055" y="640" width="1" height="14"/><rect x="1059" y="640" width="1" height="13"/><rect x="1063" y="640" width="1" height="9"/><rect x="1067" y="640" width="1" height="3"/><rect x="1071" y="639" width="1" height="2"/><rect x="1075" y="638" width="1" height="3"/><rect x="1079" y="640" width="1" height="1"/><rect x="1083" y="640" width="1" height="4"/><rect x="1087" y="640" width="1" height="6"/><rect x="1091" y="640" width="1" height="5"/><rect x="1095" y="640" width="1" height="6"/><rect x="1099" y="640" width="1" height="7"/><rect x="1103" y="640" width="1" height="6"/><rect x="1107" y="640" width="1" height="7"/><rect x="1111" y="640" width="1" height="8"/><rect x="1115" y="640" width="1" height="9"/><rect x="1119" y="640" width="1" height="9"/><rect x="1123" y="640" width="1" height="6"/><rect x="1127" y="640" width="1" height="3"/><rect x="1131" y="637" width="1" height="4"/><rect x="1135" y="635" width="1" height="6"/><rect x="1139" y="635" width="1" height="6"/><rect x="1143" y="635" width="1" height="6"/><rect x="1147" y="635" width="1" height="6"/><rect x="1151" y="633" width="1" height="8"/><rect x="1155" y="631" width="1" height="10"/><rect x="1159" y="627" width="1" height="14"/><rect x="1163" y="622" width="1" height="19"/><rect x="1167" y="619" width="1" height="22"/><rect x="1171" y="616" width="1" height="25"/><rect x="1175" y="612" width="1" height="29"/><rect x="1179" y="609" width="1" height="32"/></g><polyline points="3.5,631.4 7.5,629.6 11.5,628.0 15.5,626.6 19.5,625.7 23.5,625.3 27.5,625.5 31.5,626.1 35.5,627.3 39.5,628.9 43.5,630.8 47.5,633.1 51.5,635.4 55.5,637.4 59.5,639.1 63.5,640.5 67.5,641.7 71.5,642.6 75.5,643.2 79.5,643.7 83.5,644.0 87.5,644.3 91.5,644.7 95.5,645.3 99.5,646.2 103.5,647.2 107.5,648.3 111.5,649.4 115.5,650.4 119.5,651.4 123.5,652.3 127.5,653.4 131.5,654.3 135.5,655.0 139.5,655.2 143.5,654.9 147.5,654.1 151.5,653.0 155.5,651.7 159.5,650.3 163.5,648.5 167.5,646.7 171.5,645.1 175.5,644.1 179.5,643.7 183.5,643.8 187.5,644.3 191.5,645.2 195.5,646.2 199.5,647.4 203.5,648.4 207.5,649.1 211.5,649.5 215.5,649.7 219.5,649.8 223.5,649.9 227.5,650.3 231.5,650.9 235.5,651.7 239.5,652.8 243.5,654.0 247.5,655.0 251.5,655.9 255.5,656.5 259.5,656.9 263.5,656.7 267.5,656.3 271.5,655.4 275.5,654.0 279.5,652.7 283.5,651.6 287.5,650.5 291.5,649.5 295.5,648.6 299.5,648.0 303.5,647.3 307.5,647.1 311.5,647.1 315.5,647.4 319.5,647.9 323.5,648.6 327.5,649.4 331.5,650.5 335.5,651.5 339.5,652.5 343.5,653.0 347.5,653.4 351.5,653.5 355.5,653.2 359.5,652.8 363.5,652.1 367.5,651.1 371.5,649.7 375.5,648.2 379.5,646.8 383.5,645.3 387.5,643.8 391.5,642.0 395.5,639.7 399.5,637.3 403.5,634.9 407.5,632.8 411.5,630.9 415.5,629.2 419.5,627.9 423.5,627.0 427.5,626.5 431.5,626.5 435.5,626.7 439.5,627.0 443.5,627.3 447.5,627.4 451.5,627.5 455.5,627.7 459.5,628.0 463.5,628.6 467.5,629.5 471.5,630.7 475.5,632.2 479.5,634.1 483.5,636.1 487.5,638.4 491.5,640.2 495.5,641.8 499.5,642.8 503.5,643.4 507.5,643.6 511.5,643.6 515.5,643.5 519.5,643.3 523.5,643.1 527.5,643.0 531.5,643.2 535.5,643.5 539.5,643.9 543.5,644.4 547.5,644.7 551.5,644.7 555.5,644.4 559.5,643.7 563.5,643.1 567.5,642.3 571.5,641.4 575.5,640.5 579.5,639.5 583.5,638.6 587.5,637.7 591.5,636.9 595.5,636.1 599.5,635.2 603.5,634.2 607.5,633.3 611.5,632.7 615.5,632.4 619.5,632.3 623.5,632.5 627.5,632.9 631.5,633.4 635.5,633.8 639.5,634.0 643.5,633.9 647.5,633.3 651.5,632.4 655.5,631.3 659.5,630.3 663.5,629.4 667.5,628.4 671.5,627.8 675.5,627.8 679.5,628.3 683.5,629.2 687.5,630.4 691.5,631.7 695.5,632.9 699.5,634.0 703.5,635.2 707.5,636.2 711.5,637.2 715.5,638.1 719.5,638.9 723.5,639.7 727.5,640.6 731.5,641.7 735.5,643.0 739.5,644.5 743.5,646.0 747.5,647.4 751.5,648.5 755.5,649.4 759.5,649.9 763.5,650.2 767.5,650.2 771.5,650.2 775.5,650.2 779.5,650.2 783.5,650.4 787.5,650.7 791.5,651.6 795.5,652.8 799.5,654.4 803.5,656.2 807.5,658.1 811.5,659.9 815.5,661.6 819.5,663.3 823.5,664.7 827.5,665.8 831.5,666.5 835.5,666.7 839.5,666.5 843.5,665.9 847.5,664.5 851.5,662.6 855.5,659.9 859.5,656.3 863.5,652.1 867.5,647.6 871.5,642.7 875.5,637.2 879.5,631.2 883.5,625.0 887.5,619.0 891.5,613.5 895.5,609.8 899.5,607.6 903.5,606.5 907.5,606.2 911.5,607.6 915.5,610.9 919.5,616.5 923.5,623.6 927.5,631.7 931.5,639.4 935.5,646.4 939.5,652.7 943.5,658.0 947.5,661.5 951.5,663.0 955.5,662.7 959.5,660.9 963.5,658.3 967.5,655.6 971.5,653.4 975.5,651.5 979.5,650.7 983.5,650.7 987.5,651.4 991.5,652.2 995.5,653.0 999.5,653.4 1003.5,653.4 1007.5,652.5 1011.5,651.3 1015.5,650.1 1019.5,649.1 1023.5,648.1 1027.5,647.5 1031.5,647.2 1035.5,647.4 1039.5,647.7 1043.5,648.6 1047.5,649.6 1051.5,650.3 1055.5,650.9 1059.5,651.4 1063.5,651.4 1067.5,650.7 1071.5,649.4 1075.5,648.0 1079.5,646.6 1083.5,645.4 1087.5,644.4 1091.5,643.5 1095.5,642.7 1099.5,642.5 1103.5,642.8 1107.5,643.6 1111.5,644.6 1115.5,645.4 1119.5,645.9 1123.5,646.0 1127.5,645.7 1131.5,644.8 1135.5,643.6 1139.5,642.5 1143.5,641.3 1147.5,639.9 1151.5,638.3 1155.5,636.5 1159.5,634.5 1163.5,632.3 1167.5,630.3 1171.5,628.1 1175.5,625.6 1179.5,622.7" fill="none" stroke="#ff0000" stroke-width="1" stroke-dasharray="3,3" shape-rendering="crispEdges"/></svg><g shape-rendering="crispEdges"><rect x="3" y="678" width="1" height="3" fill="#000"/><rect x="67" y="678" width="1" height="3" fill="#000"/><rect x="131" y="678" width="1" height="3" fill="#000"/><rect x="195" y="678" width="1" height="3" fill="#000"/><rect x="259" y="678" width="1" height="3" fill="#000"/><rect x="323" y="678" width="1" height="3" fill="#000"/><rect x="387" y="678" width="1" height="3" fill="#000"/><rect x="451" y="678" width="1" height="3" fill="#000"/><rect x="515" y="678" width="1" height="3" fill="#000"/><rect x="579" y="678" width="1" height="3" fill="#000"/><rect x="643" y="678" width="1" height="3" fill="#000"/><rect x="707" y="678" width="1" height="3" fill="#000"/><rect x="771" y="678" width="1" height="3" fill="#000"/><rect x="835" y="678" width="1" height="3" fill="#000"/><rect x="899" y="678" width="1" height="3" fill="#000"/><rect x="963" y="678" width="1" height="3" fill="#000"/><rect x="1027" y="678" width="1" height="3" fill="#000"/><rect x="1091" y="678" width="1" height="3" fill="#000"/><rect x="1155" y="678" width="1" height="3" fill="#000"/></g><text x="3" y="690.5" font-size="10" fill="#000" stroke="#000" stroke-width="0.25" text-anchor="start" textLength="50.1" lengthAdjust="spacingAndGlyphs" >26 Jun 2019</text><text x="67" y="690.5" font-size="10" fill="#000" stroke="#000" stroke-width="0.25" text-anchor="start" textLength="47.1" lengthAdjust="spacingAndGlyphs" >15 Jul 2019</text><text x="131" y="690.5" font-size="10" fill="#000" stroke="#000" stroke-width="0.25" text-anchor="start" textLength="46.0" lengthAdjust="spacingAndGlyphs" >2 Aug 2019</text><text x="195" y="690.5" font-size="10" fill="#000" stroke="#000" stroke-width="0.25" text-anchor="start" textLength="51.1" lengthAdjust="spacingAndGlyphs" >21 Aug 2019</text><text x="259" y="690.5" font-size="10" fill="#000" stroke="#000" stroke-width="0.25" text-anchor="start" textLength="46.5" lengthAdjust="spacingAndGlyphs" >9 Sep 2019</text><text x="323" y="690.5" font-size="10" fill="#000" stroke="#000" stroke-width="0.25" text-anchor="start" textLength="51.6" lengthAdjust="spacingAndGlyphs" >27 Sep 2019</text><text x="387" y="690.5" font-size="10" fill="#000" stroke="#000" stroke-width="0.25" text-anchor="start" textLength="49.6" lengthAdjust="spacingAndGlyphs" >16 Oct 2019</text><text x="451" y="690.5" font-size="10" fill="#000" stroke="#000" stroke-width="0.25" text-anchor="start" textLength="46.5" lengthAdjust="spacingAndGlyphs" >4 Nov 2019</text><text x="515" y="690.5" font-size="10" fill="#000" stroke="#000" stroke-width="0.25" text-anchor="start" textLength="51.6" lengthAdjust="spacingAndGlyphs" >22 Nov 2019</text><text x="579" y="690.5" font-size="10" fill="#000" stroke="#000" stroke-width="0.25" text-anchor="start" textLength="50.9" lengthAdjust="spacingAndGlyphs" >11 Dec 2019</text><text x="643" y="690.5" font-size="10" fill="#000" stroke="#000" stroke-width="0.25" text-anchor="start" textLength="51.6" lengthAdjust="spacingAndGlyphs" >30 Dec 2019</text><text x="707" y="690.5" font-size="10" fill="#000" stroke="#000" stroke-width="0.25" text-anchor="start" textLength="50.1" lengthAdjust="spacingAndGlyphs" >17 Jan 2020</text><text x="771" y="690.5" font-size="10" fill="#000" stroke="#000" stroke-width="0.25" text-anchor="start" textLength="46.0" lengthAdjust="spacingAndGlyphs" >5 Feb 2020</text><text x="835" y="690.5" font-size="10" fill="#000" stroke="#000" stroke-width="0.25" text-anchor="start" textLength="51.1" lengthAdjust="spacingAndGlyphs" >24 Feb 2020</text><text x="899" y="690.5" font-size="10" fill="#000" stroke="#000" stroke-width="0.25" text-anchor="start" textLength="51.1" lengthAdjust="spacingAndGlyphs" >13 Mar 2020</text><text x="963" y="690.5" font-size="10" fill="#000" stroke="#000" stroke-width="0.25" text-anchor="start" textLength="44.0" lengthAdjust="spacingAndGlyphs" >1 Apr 2020</text><text x="1027" y="690.5" font-size="10" fill="#000" stroke="#000" stroke-width="0.25" text-anchor="start" textLength="49.1" lengthAdjust="spacingAndGlyphs" >20 Apr 2020</text><text x="1091" y="690.5" font-size="10" fill="#000" stroke="#000" stroke-width="0.25" text-anchor="start" textLength="47.5" lengthAdjust="spacingAndGlyphs" >8 May 2020</text><text x="1155" y="690.5" font-size="10" fill="#000" stroke="#000" stroke-width="0.25" text-anchor="start" textLength="52.6" lengthAdjust="spacingAndGlyphs" >27 May 2020</text><g shape-rendering="crispEdges"><rect x="0" y="698" width="1528" height="1" fill="#e3e3e3"/><rect x="0" y="699" width="1528" height="21" fill="#f0f0f0"/><rect x="0" y="700" width="1528" height="1" fill="#000"/><rect x="4" y="699" width="104" height="20" fill="#fff"/><rect x="4" y="700" width="1" height="19" fill="#000"/><rect x="107" y="700" width="1" height="19" fill="#000"/><rect x="4" y="718" width="104" height="1" fill="#000"/><rect x="208" y="704" width="1" height="12" fill="#7a7a7a"/><rect x="312" y="704" width="1" height="12" fill="#7a7a7a"/><rect x="416" y="704" width="1" height="12" fill="#7a7a7a"/><rect x="521" y="704" width="1" height="12" fill="#7a7a7a"/><rect x="625" y="704" width="1" height="12" fill="#7a7a7a"/><rect x="729" y="704" width="1" height="12" fill="#7a7a7a"/><rect x="821" y="704" width="1" height="12" fill="#7a7a7a"/><rect x="892" y="704" width="1" height="12" fill="#7a7a7a"/><rect x="972" y="704" width="1" height="12" fill="#7a7a7a"/><rect x="1053" y="704" width="1" height="12" fill="#7a7a7a"/><rect x="1133" y="704" width="1" height="12" fill="#7a7a7a"/><rect x="1208" y="704" width="1" height="12" fill="#7a7a7a"/><rect x="1293" y="704" width="1" height="12" fill="#7a7a7a"/><rect x="1376" y="704" width="1" height="12" fill="#7a7a7a"/><rect x="1444" y="704" width="1" height="12" fill="#7a7a7a"/></g><text x="16" y="714.5" font-size="12.5" fill="#000" stroke="#000" stroke-width="0.1" text-anchor="start" textLength="79.5" lengthAdjust="spacingAndGlyphs" >EURUSD,Daily</text><text x="118.5" y="714.5" font-size="12.5" fill="#6d6d6d" stroke="#6d6d6d" stroke-width="0.1" text-anchor="start" textLength="79.9" lengthAdjust="spacingAndGlyphs" >USDCHF,Daily</text><text x="218.5" y="714.5" font-size="12.5" fill="#6d6d6d" stroke="#6d6d6d" stroke-width="0.1" text-anchor="start" textLength="81.9" lengthAdjust="spacingAndGlyphs" >AUDUSD,Daily</text><text x="322.5" y="714.5" font-size="12.5" fill="#6d6d6d" stroke="#6d6d6d" stroke-width="0.1" text-anchor="start" textLength="81.9" lengthAdjust="spacingAndGlyphs" >USDCAD,Daily</text><text x="426.5" y="714.5" font-size="12.5" fill="#6d6d6d" stroke="#6d6d6d" stroke-width="0.1" text-anchor="start" textLength="82.6" lengthAdjust="spacingAndGlyphs" >USDCNH,Daily</text><text x="531.5" y="714.5" font-size="12.5" fill="#6d6d6d" stroke="#6d6d6d" stroke-width="0.1" text-anchor="start" textLength="81.9" lengthAdjust="spacingAndGlyphs" >EURUSD,Daily</text><text x="635.5" y="714.5" font-size="12.5" fill="#6d6d6d" stroke="#6d6d6d" stroke-width="0.1" text-anchor="start" textLength="81.9" lengthAdjust="spacingAndGlyphs" >GBPUSD,Daily</text><text x="739.5" y="714.5" font-size="12.5" fill="#6d6d6d" stroke="#6d6d6d" stroke-width="0.1" text-anchor="start" textLength="69.8" lengthAdjust="spacingAndGlyphs" >XAUUSD,H4</text><text x="831.5" y="714.5" font-size="12.5" fill="#6d6d6d" stroke="#6d6d6d" stroke-width="0.1" text-anchor="start" textLength="49.5" lengthAdjust="spacingAndGlyphs" >HK50,H1</text><text x="902.5" y="714.5" font-size="12.5" fill="#6d6d6d" stroke="#6d6d6d" stroke-width="0.1" text-anchor="start" textLength="56.2" lengthAdjust="spacingAndGlyphs" >UK100,H1</text><text x="982.5" y="714.5" font-size="12.5" fill="#6d6d6d" stroke="#6d6d6d" stroke-width="0.1" text-anchor="start" textLength="56.2" lengthAdjust="spacingAndGlyphs" >UK100,H1</text><text x="1063.5" y="714.5" font-size="12.5" fill="#6d6d6d" stroke="#6d6d6d" stroke-width="0.1" text-anchor="start" textLength="58.9" lengthAdjust="spacingAndGlyphs" >GER30,H1</text><text x="1143.5" y="714.5" font-size="12.5" fill="#6d6d6d" stroke="#6d6d6d" stroke-width="0.1" text-anchor="start" textLength="56.9" lengthAdjust="spacingAndGlyphs" >FRA40,H1</text><text x="1218.5" y="714.5" font-size="12.5" fill="#6d6d6d" stroke="#6d6d6d" stroke-width="0.1" text-anchor="start" textLength="62.3" lengthAdjust="spacingAndGlyphs" >USOil,Daily</text><text x="1303.5" y="714.5" font-size="12.5" fill="#6d6d6d" stroke="#6d6d6d" stroke-width="0.1" text-anchor="start" textLength="65.5" lengthAdjust="spacingAndGlyphs" >USDJPY,H1</text><text x="1386.5" y="714.5" font-size="12.5" fill="#6d6d6d" stroke="#6d6d6d" stroke-width="0.1" text-anchor="start" textLength="47.4" lengthAdjust="spacingAndGlyphs" >DJ30,H1</text><polygon points="1501.5,710 1505.5,706 1505.5,714" fill="#909090"/><polygon points="1526.5,710 1522.5,706 1522.5,714" fill="#909090"/></svg>
</body></html>
